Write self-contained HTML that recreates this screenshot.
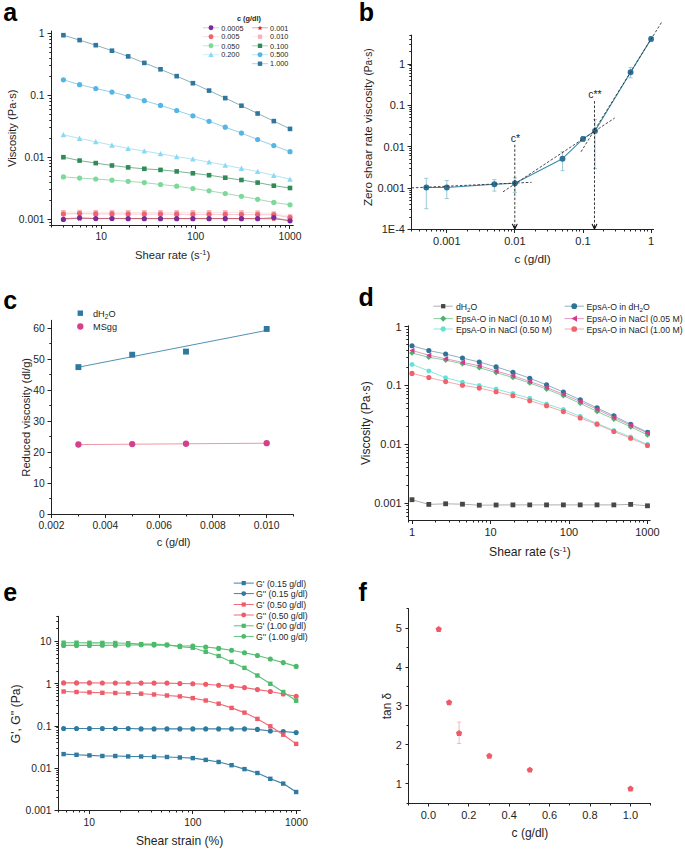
<!DOCTYPE html>
<html><head><meta charset="utf-8"><style>
html,body{margin:0;padding:0;background:#fff;width:685px;height:849px;overflow:hidden}
svg{display:block;font-family:"Liberation Sans", sans-serif}
</style></head><body>
<svg width="685" height="849" viewBox="0 0 685 849" font-family='"Liberation Sans", sans-serif'>
<rect width="685" height="849" fill="#fff"/>
<text x="3.3" y="20.6" font-size="25" text-anchor="start" font-weight="bold" fill="#000" >a</text>
<text x="358.7" y="20.7" font-size="25" text-anchor="start" font-weight="bold" fill="#000" >b</text>
<text x="3.2" y="308.5" font-size="25" text-anchor="start" font-weight="bold" fill="#000" >c</text>
<text x="358.6" y="305.9" font-size="25" text-anchor="start" font-weight="bold" fill="#000" >d</text>
<text x="3.2" y="601.3" font-size="25" text-anchor="start" font-weight="bold" fill="#000" >e</text>
<text x="358.4" y="601" font-size="25" text-anchor="start" font-weight="bold" fill="#000" >f</text>
<line x1="51.5" y1="30.6" x2="51.5" y2="226" stroke="#222" stroke-width="1" />
<line x1="51" y1="225.5" x2="293.7" y2="225.5" stroke="#222" stroke-width="1" />
<line x1="49.3" y1="225.5" x2="51.5" y2="225.5" stroke="#222" stroke-width="1" />
<line x1="49.3" y1="222.5" x2="51.5" y2="222.5" stroke="#222" stroke-width="1" />
<line x1="47.5" y1="219.5" x2="51.5" y2="219.5" stroke="#222" stroke-width="1" />
<line x1="49.3" y1="200.5" x2="51.5" y2="200.5" stroke="#222" stroke-width="1" />
<line x1="49.3" y1="189.5" x2="51.5" y2="189.5" stroke="#222" stroke-width="1" />
<line x1="49.3" y1="182.5" x2="51.5" y2="182.5" stroke="#222" stroke-width="1" />
<line x1="49.3" y1="176.5" x2="51.5" y2="176.5" stroke="#222" stroke-width="1" />
<line x1="49.3" y1="171.5" x2="51.5" y2="171.5" stroke="#222" stroke-width="1" />
<line x1="49.3" y1="166.5" x2="51.5" y2="166.5" stroke="#222" stroke-width="1" />
<line x1="49.3" y1="163.5" x2="51.5" y2="163.5" stroke="#222" stroke-width="1" />
<line x1="49.3" y1="160.5" x2="51.5" y2="160.5" stroke="#222" stroke-width="1" />
<line x1="47.5" y1="157.5" x2="51.5" y2="157.5" stroke="#222" stroke-width="1" />
<line x1="49.3" y1="138.5" x2="51.5" y2="138.5" stroke="#222" stroke-width="1" />
<line x1="49.3" y1="127.5" x2="51.5" y2="127.5" stroke="#222" stroke-width="1" />
<line x1="49.3" y1="120.5" x2="51.5" y2="120.5" stroke="#222" stroke-width="1" />
<line x1="49.3" y1="114.5" x2="51.5" y2="114.5" stroke="#222" stroke-width="1" />
<line x1="49.3" y1="109.5" x2="51.5" y2="109.5" stroke="#222" stroke-width="1" />
<line x1="49.3" y1="105.5" x2="51.5" y2="105.5" stroke="#222" stroke-width="1" />
<line x1="49.3" y1="101.5" x2="51.5" y2="101.5" stroke="#222" stroke-width="1" />
<line x1="49.3" y1="98.5" x2="51.5" y2="98.5" stroke="#222" stroke-width="1" />
<line x1="47.5" y1="95.5" x2="51.5" y2="95.5" stroke="#222" stroke-width="1" />
<line x1="49.3" y1="76.5" x2="51.5" y2="76.5" stroke="#222" stroke-width="1" />
<line x1="49.3" y1="65.5" x2="51.5" y2="65.5" stroke="#222" stroke-width="1" />
<line x1="49.3" y1="58.5" x2="51.5" y2="58.5" stroke="#222" stroke-width="1" />
<line x1="49.3" y1="52.5" x2="51.5" y2="52.5" stroke="#222" stroke-width="1" />
<line x1="49.3" y1="47.5" x2="51.5" y2="47.5" stroke="#222" stroke-width="1" />
<line x1="49.3" y1="43.5" x2="51.5" y2="43.5" stroke="#222" stroke-width="1" />
<line x1="49.3" y1="39.5" x2="51.5" y2="39.5" stroke="#222" stroke-width="1" />
<line x1="49.3" y1="36.5" x2="51.5" y2="36.5" stroke="#222" stroke-width="1" />
<line x1="47.5" y1="33.5" x2="51.5" y2="33.5" stroke="#222" stroke-width="1" />
<line x1="51.5" y1="225.5" x2="51.5" y2="227.5" stroke="#222" stroke-width="1" />
<line x1="63.5" y1="225.5" x2="63.5" y2="227.5" stroke="#222" stroke-width="1" />
<line x1="72.5" y1="225.5" x2="72.5" y2="227.5" stroke="#222" stroke-width="1" />
<line x1="80.5" y1="225.5" x2="80.5" y2="227.5" stroke="#222" stroke-width="1" />
<line x1="86.5" y1="225.5" x2="86.5" y2="227.5" stroke="#222" stroke-width="1" />
<line x1="92.5" y1="225.5" x2="92.5" y2="227.5" stroke="#222" stroke-width="1" />
<line x1="96.5" y1="225.5" x2="96.5" y2="227.5" stroke="#222" stroke-width="1" />
<line x1="101.5" y1="225.5" x2="101.5" y2="229" stroke="#222" stroke-width="1" />
<line x1="129.5" y1="225.5" x2="129.5" y2="227.5" stroke="#222" stroke-width="1" />
<line x1="146.5" y1="225.5" x2="146.5" y2="227.5" stroke="#222" stroke-width="1" />
<line x1="158.5" y1="225.5" x2="158.5" y2="227.5" stroke="#222" stroke-width="1" />
<line x1="167.5" y1="225.5" x2="167.5" y2="227.5" stroke="#222" stroke-width="1" />
<line x1="174.5" y1="225.5" x2="174.5" y2="227.5" stroke="#222" stroke-width="1" />
<line x1="181.5" y1="225.5" x2="181.5" y2="227.5" stroke="#222" stroke-width="1" />
<line x1="186.5" y1="225.5" x2="186.5" y2="227.5" stroke="#222" stroke-width="1" />
<line x1="191.5" y1="225.5" x2="191.5" y2="227.5" stroke="#222" stroke-width="1" />
<line x1="195.5" y1="225.5" x2="195.5" y2="229" stroke="#222" stroke-width="1" />
<line x1="224.5" y1="225.5" x2="224.5" y2="227.5" stroke="#222" stroke-width="1" />
<line x1="240.5" y1="225.5" x2="240.5" y2="227.5" stroke="#222" stroke-width="1" />
<line x1="252.5" y1="225.5" x2="252.5" y2="227.5" stroke="#222" stroke-width="1" />
<line x1="261.5" y1="225.5" x2="261.5" y2="227.5" stroke="#222" stroke-width="1" />
<line x1="269.5" y1="225.5" x2="269.5" y2="227.5" stroke="#222" stroke-width="1" />
<line x1="275.5" y1="225.5" x2="275.5" y2="227.5" stroke="#222" stroke-width="1" />
<line x1="280.5" y1="225.5" x2="280.5" y2="227.5" stroke="#222" stroke-width="1" />
<line x1="285.5" y1="225.5" x2="285.5" y2="227.5" stroke="#222" stroke-width="1" />
<line x1="289.5" y1="225.5" x2="289.5" y2="229" stroke="#222" stroke-width="1" />
<text x="44.6" y="37.2" font-size="10.3" text-anchor="end" font-weight="normal" fill="#1e1e1e" >1</text>
<text x="44.6" y="99.15" font-size="10.3" text-anchor="end" font-weight="normal" fill="#1e1e1e" >0.1</text>
<text x="44.6" y="161.1" font-size="10.3" text-anchor="end" font-weight="normal" fill="#1e1e1e" >0.01</text>
<text x="44.6" y="223.05" font-size="10.3" text-anchor="end" font-weight="normal" fill="#1e1e1e" >0.001</text>
<text x="101.3" y="240.2" font-size="10.3" text-anchor="middle" font-weight="normal" fill="#1e1e1e" >10</text>
<text x="195.65" y="240.2" font-size="10.3" text-anchor="middle" font-weight="normal" fill="#1e1e1e" >100</text>
<text x="290" y="240.2" font-size="10.3" text-anchor="middle" font-weight="normal" fill="#1e1e1e" >1000</text>
<text x="16.3" y="128.3" font-size="11.2" text-anchor="middle" font-weight="normal" fill="#1e1e1e" transform="rotate(-90 16.3 128.3)" >Viscosity (Pa·s)</text>
<text x="172.6" y="258.6" font-size="11.2" text-anchor="middle" font-weight="normal" fill="#1e1e1e" >Shear rate (s<tspan dy="-4" font-size="7.5">-1</tspan><tspan dy="4">)</tspan></text>
<polyline points="63.4,212.3 79.59,212.1 95.77,212.2 111.96,212.3 128.14,212.2 144.33,212.3 160.52,212.3 176.7,212.3 192.89,212.3 209.07,212.3 225.26,212.4 241.45,212.5 257.63,212.6 273.82,213.5 290,216.4" fill="none" stroke="#f9dde0" stroke-width="0.8" stroke-linejoin="round" />
<polyline points="63.4,214 79.59,213.6 95.77,213.9 111.96,213.9 128.14,214 144.33,214 160.52,214 176.7,214.2 192.89,214.3 209.07,214.3 225.26,214.4 241.45,214.5 257.63,214.6 273.82,214.8 290,217.6" fill="none" stroke="#f6b8bc" stroke-width="0.8" stroke-linejoin="round" />
<polyline points="63.4,219.4 79.59,217.9 95.77,218.6 111.96,218.5 128.14,218.7 144.33,218.7 160.52,218.7 176.7,218.7 192.89,218.7 209.07,218.7 225.26,218.7 241.45,218.7 257.63,218.7 273.82,217.6 290,220.8" fill="none" stroke="#b58ac8" stroke-width="0.8" stroke-linejoin="round" />
<polyline points="63.4,218.6 79.59,218.2 95.77,218.5 111.96,218.4 128.14,218.5 144.33,218.5 160.52,218.5 176.7,218.5 192.89,218.5 209.07,218.5 225.26,218.5 241.45,218.5 257.63,218.6 273.82,218.8 290,220.6" fill="none" stroke="#c8505a" stroke-width="0.8" stroke-linejoin="round" />
<rect x="61.1" y="210" width="4.6" height="4.6" fill="#f5b4bc"/>
<rect x="77.29" y="209.8" width="4.6" height="4.6" fill="#f5b4bc"/>
<rect x="93.47" y="209.9" width="4.6" height="4.6" fill="#f5b4bc"/>
<rect x="109.66" y="210" width="4.6" height="4.6" fill="#f5b4bc"/>
<rect x="125.84" y="209.9" width="4.6" height="4.6" fill="#f5b4bc"/>
<rect x="142.03" y="210" width="4.6" height="4.6" fill="#f5b4bc"/>
<rect x="158.22" y="210" width="4.6" height="4.6" fill="#f5b4bc"/>
<rect x="174.4" y="210" width="4.6" height="4.6" fill="#f5b4bc"/>
<rect x="190.59" y="210" width="4.6" height="4.6" fill="#f5b4bc"/>
<rect x="206.77" y="210" width="4.6" height="4.6" fill="#f5b4bc"/>
<rect x="222.96" y="210.1" width="4.6" height="4.6" fill="#f5b4bc"/>
<rect x="239.15" y="210.2" width="4.6" height="4.6" fill="#f5b4bc"/>
<rect x="255.33" y="210.3" width="4.6" height="4.6" fill="#f5b4bc"/>
<rect x="271.52" y="211.2" width="4.6" height="4.6" fill="#f5b4bc"/>
<rect x="287.7" y="214.1" width="4.6" height="4.6" fill="#f5b4bc"/>
<circle cx="63.4" cy="214" r="2.6" fill="#f0626c"/>
<circle cx="79.59" cy="213.6" r="2.6" fill="#f0626c"/>
<circle cx="95.77" cy="213.9" r="2.6" fill="#f0626c"/>
<circle cx="111.96" cy="213.9" r="2.6" fill="#f0626c"/>
<circle cx="128.14" cy="214" r="2.6" fill="#f0626c"/>
<circle cx="144.33" cy="214" r="2.6" fill="#f0626c"/>
<circle cx="160.52" cy="214" r="2.6" fill="#f0626c"/>
<circle cx="176.7" cy="214.2" r="2.6" fill="#f0626c"/>
<circle cx="192.89" cy="214.3" r="2.6" fill="#f0626c"/>
<circle cx="209.07" cy="214.3" r="2.6" fill="#f0626c"/>
<circle cx="225.26" cy="214.4" r="2.6" fill="#f0626c"/>
<circle cx="241.45" cy="214.5" r="2.6" fill="#f0626c"/>
<circle cx="257.63" cy="214.6" r="2.6" fill="#f0626c"/>
<circle cx="273.82" cy="214.8" r="2.6" fill="#f0626c"/>
<circle cx="290" cy="217.6" r="2.6" fill="#f0626c"/>
<polygon points="63.4,216.15 64.12,217.91 66.02,218.05 64.56,219.28 65.02,221.12 63.4,220.12 61.78,221.12 62.24,219.28 60.78,218.05 62.68,217.91" fill="#d7242b" stroke="none" stroke-width="0"/>
<polygon points="79.59,215.75 80.3,217.51 82.2,217.65 80.75,218.88 81.2,220.72 79.59,219.72 77.97,220.72 78.42,218.88 76.97,217.65 78.87,217.51" fill="#d7242b" stroke="none" stroke-width="0"/>
<polygon points="95.77,216.05 96.49,217.81 98.39,217.95 96.93,219.18 97.39,221.02 95.77,220.02 94.16,221.02 94.61,219.18 93.16,217.95 95.05,217.81" fill="#d7242b" stroke="none" stroke-width="0"/>
<polygon points="111.96,215.95 112.68,217.71 114.57,217.85 113.12,219.08 113.57,220.92 111.96,219.92 110.34,220.92 110.8,219.08 109.34,217.85 111.24,217.71" fill="#d7242b" stroke="none" stroke-width="0"/>
<polygon points="128.14,216.05 128.86,217.81 130.76,217.95 129.31,219.18 129.76,221.02 128.14,220.02 126.53,221.02 126.98,219.18 125.53,217.95 127.43,217.81" fill="#d7242b" stroke="none" stroke-width="0"/>
<polygon points="144.33,216.05 145.05,217.81 146.95,217.95 145.49,219.18 145.95,221.02 144.33,220.02 142.71,221.02 143.17,219.18 141.71,217.95 143.61,217.81" fill="#d7242b" stroke="none" stroke-width="0"/>
<polygon points="160.52,216.05 161.23,217.81 163.13,217.95 161.68,219.18 162.13,221.02 160.52,220.02 158.9,221.02 159.35,219.18 157.9,217.95 159.8,217.81" fill="#d7242b" stroke="none" stroke-width="0"/>
<polygon points="176.7,216.05 177.42,217.81 179.32,217.95 177.86,219.18 178.32,221.02 176.7,220.02 175.09,221.02 175.54,219.18 174.09,217.95 175.98,217.81" fill="#d7242b" stroke="none" stroke-width="0"/>
<polygon points="192.89,216.05 193.61,217.81 195.5,217.95 194.05,219.18 194.5,221.02 192.89,220.02 191.27,221.02 191.73,219.18 190.27,217.95 192.17,217.81" fill="#d7242b" stroke="none" stroke-width="0"/>
<polygon points="209.07,216.05 209.79,217.81 211.69,217.95 210.24,219.18 210.69,221.02 209.07,220.02 207.46,221.02 207.91,219.18 206.46,217.95 208.36,217.81" fill="#d7242b" stroke="none" stroke-width="0"/>
<polygon points="225.26,216.05 225.98,217.81 227.88,217.95 226.42,219.18 226.88,221.02 225.26,220.02 223.64,221.02 224.1,219.18 222.64,217.95 224.54,217.81" fill="#d7242b" stroke="none" stroke-width="0"/>
<polygon points="241.45,216.05 242.16,217.81 244.06,217.95 242.61,219.18 243.06,221.02 241.45,220.02 239.83,221.02 240.28,219.18 238.83,217.95 240.73,217.81" fill="#d7242b" stroke="none" stroke-width="0"/>
<polygon points="257.63,216.15 258.35,217.91 260.25,218.05 258.79,219.28 259.25,221.12 257.63,220.12 256.02,221.12 256.47,219.28 255.02,218.05 256.91,217.91" fill="#d7242b" stroke="none" stroke-width="0"/>
<polygon points="273.82,216.35 274.54,218.11 276.43,218.25 274.98,219.48 275.43,221.32 273.82,220.32 272.2,221.32 272.66,219.48 271.2,218.25 273.1,218.11" fill="#d7242b" stroke="none" stroke-width="0"/>
<polygon points="290,218.15 290.72,219.91 292.62,220.05 291.17,221.28 291.62,223.12 290,222.12 288.39,223.12 288.84,221.28 287.39,220.05 289.29,219.91" fill="#d7242b" stroke="none" stroke-width="0"/>
<circle cx="63.4" cy="219.4" r="2.6" fill="#7a2a9c"/>
<circle cx="79.59" cy="217.9" r="2.6" fill="#7a2a9c"/>
<circle cx="95.77" cy="218.6" r="2.6" fill="#7a2a9c"/>
<circle cx="111.96" cy="218.5" r="2.6" fill="#7a2a9c"/>
<circle cx="128.14" cy="218.7" r="2.6" fill="#7a2a9c"/>
<circle cx="144.33" cy="218.7" r="2.6" fill="#7a2a9c"/>
<circle cx="160.52" cy="218.7" r="2.6" fill="#7a2a9c"/>
<circle cx="176.7" cy="218.7" r="2.6" fill="#7a2a9c"/>
<circle cx="192.89" cy="218.7" r="2.6" fill="#7a2a9c"/>
<circle cx="209.07" cy="218.7" r="2.6" fill="#7a2a9c"/>
<circle cx="225.26" cy="218.7" r="2.6" fill="#7a2a9c"/>
<circle cx="241.45" cy="218.7" r="2.6" fill="#7a2a9c"/>
<circle cx="257.63" cy="218.7" r="2.6" fill="#7a2a9c"/>
<circle cx="273.82" cy="217.6" r="2.6" fill="#7a2a9c"/>
<circle cx="290" cy="220.8" r="2.6" fill="#7a2a9c"/>
<polyline points="63.4,176.9 79.59,178.1 95.77,179 111.96,180.2 128.14,181.3 144.33,182.6 160.52,184.5 176.7,186.2 192.89,188.5 209.07,190.8 225.26,193.5 241.45,196.3 257.63,199.3 273.82,202.4 290,204.8" fill="none" stroke="#8ecfa6" stroke-width="0.8" stroke-linejoin="round" />
<circle cx="63.4" cy="176.9" r="2.6" fill="#7fd89b"/>
<circle cx="79.59" cy="178.1" r="2.6" fill="#7fd89b"/>
<circle cx="95.77" cy="179" r="2.6" fill="#7fd89b"/>
<circle cx="111.96" cy="180.2" r="2.6" fill="#7fd89b"/>
<circle cx="128.14" cy="181.3" r="2.6" fill="#7fd89b"/>
<circle cx="144.33" cy="182.6" r="2.6" fill="#7fd89b"/>
<circle cx="160.52" cy="184.5" r="2.6" fill="#7fd89b"/>
<circle cx="176.7" cy="186.2" r="2.6" fill="#7fd89b"/>
<circle cx="192.89" cy="188.5" r="2.6" fill="#7fd89b"/>
<circle cx="209.07" cy="190.8" r="2.6" fill="#7fd89b"/>
<circle cx="225.26" cy="193.5" r="2.6" fill="#7fd89b"/>
<circle cx="241.45" cy="196.3" r="2.6" fill="#7fd89b"/>
<circle cx="257.63" cy="199.3" r="2.6" fill="#7fd89b"/>
<circle cx="273.82" cy="202.4" r="2.6" fill="#7fd89b"/>
<circle cx="290" cy="204.8" r="2.6" fill="#7fd89b"/>
<polyline points="63.4,157.2 79.59,160.6 95.77,163.1 111.96,165.5 128.14,167.4 144.33,168.8 160.52,169.9 176.7,171.4 192.89,173.3 209.07,175.2 225.26,177.7 241.45,180 257.63,182.6 273.82,185.7 290,188" fill="none" stroke="#5d9e78" stroke-width="0.8" stroke-linejoin="round" />
<rect x="61.1" y="154.9" width="4.6" height="4.6" fill="#2f8c57"/>
<rect x="77.29" y="158.3" width="4.6" height="4.6" fill="#2f8c57"/>
<rect x="93.47" y="160.8" width="4.6" height="4.6" fill="#2f8c57"/>
<rect x="109.66" y="163.2" width="4.6" height="4.6" fill="#2f8c57"/>
<rect x="125.84" y="165.1" width="4.6" height="4.6" fill="#2f8c57"/>
<rect x="142.03" y="166.5" width="4.6" height="4.6" fill="#2f8c57"/>
<rect x="158.22" y="167.6" width="4.6" height="4.6" fill="#2f8c57"/>
<rect x="174.4" y="169.1" width="4.6" height="4.6" fill="#2f8c57"/>
<rect x="190.59" y="171" width="4.6" height="4.6" fill="#2f8c57"/>
<rect x="206.77" y="172.9" width="4.6" height="4.6" fill="#2f8c57"/>
<rect x="222.96" y="175.4" width="4.6" height="4.6" fill="#2f8c57"/>
<rect x="239.15" y="177.7" width="4.6" height="4.6" fill="#2f8c57"/>
<rect x="255.33" y="180.3" width="4.6" height="4.6" fill="#2f8c57"/>
<rect x="271.52" y="183.4" width="4.6" height="4.6" fill="#2f8c57"/>
<rect x="287.7" y="185.7" width="4.6" height="4.6" fill="#2f8c57"/>
<polyline points="63.4,134.8 79.59,138.4 95.77,141.8 111.96,145.2 128.14,148.5 144.33,151.1 160.52,153.8 176.7,156.7 192.89,159.1 209.07,162.1 225.26,165.2 241.45,168.4 257.63,171.6 273.82,175.4 290,179.2" fill="none" stroke="#9fdcee" stroke-width="0.8" stroke-linejoin="round" />
<polygon points="63.4,131.98 66.2,137.32 60.6,137.32" fill="#8ad9f5" stroke="none" stroke-width="0"/>
<polygon points="79.59,135.58 82.39,140.92 76.79,140.92" fill="#8ad9f5" stroke="none" stroke-width="0"/>
<polygon points="95.77,138.98 98.57,144.32 92.97,144.32" fill="#8ad9f5" stroke="none" stroke-width="0"/>
<polygon points="111.96,142.38 114.76,147.72 109.16,147.72" fill="#8ad9f5" stroke="none" stroke-width="0"/>
<polygon points="128.14,145.68 130.94,151.02 125.34,151.02" fill="#8ad9f5" stroke="none" stroke-width="0"/>
<polygon points="144.33,148.28 147.13,153.62 141.53,153.62" fill="#8ad9f5" stroke="none" stroke-width="0"/>
<polygon points="160.52,150.98 163.32,156.32 157.72,156.32" fill="#8ad9f5" stroke="none" stroke-width="0"/>
<polygon points="176.7,153.88 179.5,159.22 173.9,159.22" fill="#8ad9f5" stroke="none" stroke-width="0"/>
<polygon points="192.89,156.28 195.69,161.62 190.09,161.62" fill="#8ad9f5" stroke="none" stroke-width="0"/>
<polygon points="209.07,159.28 211.87,164.62 206.27,164.62" fill="#8ad9f5" stroke="none" stroke-width="0"/>
<polygon points="225.26,162.38 228.06,167.72 222.46,167.72" fill="#8ad9f5" stroke="none" stroke-width="0"/>
<polygon points="241.45,165.58 244.25,170.92 238.65,170.92" fill="#8ad9f5" stroke="none" stroke-width="0"/>
<polygon points="257.63,168.78 260.43,174.12 254.83,174.12" fill="#8ad9f5" stroke="none" stroke-width="0"/>
<polygon points="273.82,172.58 276.62,177.92 271.02,177.92" fill="#8ad9f5" stroke="none" stroke-width="0"/>
<polygon points="290,176.38 292.8,181.72 287.2,181.72" fill="#8ad9f5" stroke="none" stroke-width="0"/>
<polyline points="63.4,79.8 79.59,84.7 95.77,88.5 111.96,92.1 128.14,96.3 144.33,100.7 160.52,105.4 176.7,110.5 192.89,115.8 209.07,121.3 225.26,127.2 241.45,133.1 257.63,139.5 273.82,145.6 290,151.7" fill="none" stroke="#7cc3e0" stroke-width="0.8" stroke-linejoin="round" />
<circle cx="63.4" cy="79.8" r="2.6" fill="#55b6e6"/>
<circle cx="79.59" cy="84.7" r="2.6" fill="#55b6e6"/>
<circle cx="95.77" cy="88.5" r="2.6" fill="#55b6e6"/>
<circle cx="111.96" cy="92.1" r="2.6" fill="#55b6e6"/>
<circle cx="128.14" cy="96.3" r="2.6" fill="#55b6e6"/>
<circle cx="144.33" cy="100.7" r="2.6" fill="#55b6e6"/>
<circle cx="160.52" cy="105.4" r="2.6" fill="#55b6e6"/>
<circle cx="176.7" cy="110.5" r="2.6" fill="#55b6e6"/>
<circle cx="192.89" cy="115.8" r="2.6" fill="#55b6e6"/>
<circle cx="209.07" cy="121.3" r="2.6" fill="#55b6e6"/>
<circle cx="225.26" cy="127.2" r="2.6" fill="#55b6e6"/>
<circle cx="241.45" cy="133.1" r="2.6" fill="#55b6e6"/>
<circle cx="257.63" cy="139.5" r="2.6" fill="#55b6e6"/>
<circle cx="273.82" cy="145.6" r="2.6" fill="#55b6e6"/>
<circle cx="290" cy="151.7" r="2.6" fill="#55b6e6"/>
<polyline points="63.4,35.2 79.59,40.1 95.77,45.2 111.96,50.7 128.14,56.4 144.33,62.9 160.52,69.3 176.7,76.15 192.89,83.2 209.07,90.6 225.26,98.1 241.45,105.7 257.63,113.5 273.82,121.1 290,128.9" fill="none" stroke="#6c9ea8" stroke-width="0.8" stroke-linejoin="round" />
<rect x="61.1" y="32.9" width="4.6" height="4.6" fill="#2f77a0"/>
<rect x="77.29" y="37.8" width="4.6" height="4.6" fill="#2f77a0"/>
<rect x="93.47" y="42.9" width="4.6" height="4.6" fill="#2f77a0"/>
<rect x="109.66" y="48.4" width="4.6" height="4.6" fill="#2f77a0"/>
<rect x="125.84" y="54.1" width="4.6" height="4.6" fill="#2f77a0"/>
<rect x="142.03" y="60.6" width="4.6" height="4.6" fill="#2f77a0"/>
<rect x="158.22" y="67" width="4.6" height="4.6" fill="#2f77a0"/>
<rect x="174.4" y="73.85" width="4.6" height="4.6" fill="#2f77a0"/>
<rect x="190.59" y="80.9" width="4.6" height="4.6" fill="#2f77a0"/>
<rect x="206.77" y="88.3" width="4.6" height="4.6" fill="#2f77a0"/>
<rect x="222.96" y="95.8" width="4.6" height="4.6" fill="#2f77a0"/>
<rect x="239.15" y="103.4" width="4.6" height="4.6" fill="#2f77a0"/>
<rect x="255.33" y="111.2" width="4.6" height="4.6" fill="#2f77a0"/>
<rect x="271.52" y="118.8" width="4.6" height="4.6" fill="#2f77a0"/>
<rect x="287.7" y="126.6" width="4.6" height="4.6" fill="#2f77a0"/>
<text x="249" y="21.2" font-size="7.3" text-anchor="middle" font-weight="bold" fill="#1e1e1e" >c (g/dl)</text>
<line x1="203" y1="27.8" x2="219" y2="27.8" stroke="#b58ac8" stroke-width="0.7" stroke-opacity="0.7"/>
<circle cx="211" cy="27.8" r="2.47" fill="#7a2a9c"/>
<text x="221.2" y="30.55" font-size="7.7" text-anchor="start" font-weight="normal" fill="#1e1e1e" textLength="22.37" lengthAdjust="spacingAndGlyphs">0.0005</text>
<line x1="203" y1="36.7" x2="219" y2="36.7" stroke="#f6b8bc" stroke-width="0.7" stroke-opacity="0.7"/>
<circle cx="211" cy="36.7" r="2.47" fill="#f0626c"/>
<text x="221.2" y="39.45" font-size="7.7" text-anchor="start" font-weight="normal" fill="#1e1e1e" textLength="18.3" lengthAdjust="spacingAndGlyphs">0.005</text>
<line x1="203" y1="45.8" x2="219" y2="45.8" stroke="#8ecfa6" stroke-width="0.7" stroke-opacity="0.7"/>
<circle cx="211" cy="45.8" r="2.47" fill="#7fd89b"/>
<text x="221.2" y="48.55" font-size="7.7" text-anchor="start" font-weight="normal" fill="#1e1e1e" textLength="18.3" lengthAdjust="spacingAndGlyphs">0.050</text>
<line x1="203" y1="54.7" x2="219" y2="54.7" stroke="#9fdcee" stroke-width="0.7" stroke-opacity="0.7"/>
<polygon points="211,52.01 213.66,57.09 208.34,57.09" fill="#8ad9f5" stroke="none" stroke-width="0"/>
<text x="221.2" y="57.45" font-size="7.7" text-anchor="start" font-weight="normal" fill="#1e1e1e" textLength="18.3" lengthAdjust="spacingAndGlyphs">0.200</text>
<line x1="252" y1="27.8" x2="268" y2="27.8" stroke="#c8505a" stroke-width="0.7" stroke-opacity="0.7"/>
<polygon points="260,25.49 260.68,27.16 262.48,27.29 261.1,28.46 261.54,30.21 260,29.26 258.46,30.21 258.9,28.46 257.52,27.29 259.32,27.16" fill="#d7242b" stroke="none" stroke-width="0"/>
<text x="270.1" y="30.55" font-size="7.7" text-anchor="start" font-weight="normal" fill="#1e1e1e" textLength="18.3" lengthAdjust="spacingAndGlyphs">0.001</text>
<line x1="252" y1="36.7" x2="268" y2="36.7" stroke="#f9dde0" stroke-width="0.7" stroke-opacity="0.7"/>
<rect x="257.81" y="34.52" width="4.37" height="4.37" fill="#f5b4bc"/>
<text x="270.1" y="39.45" font-size="7.7" text-anchor="start" font-weight="normal" fill="#1e1e1e" textLength="18.3" lengthAdjust="spacingAndGlyphs">0.010</text>
<line x1="252" y1="45.8" x2="268" y2="45.8" stroke="#5d9e78" stroke-width="0.7" stroke-opacity="0.7"/>
<rect x="257.81" y="43.61" width="4.37" height="4.37" fill="#2f8c57"/>
<text x="270.1" y="48.55" font-size="7.7" text-anchor="start" font-weight="normal" fill="#1e1e1e" textLength="18.3" lengthAdjust="spacingAndGlyphs">0.100</text>
<line x1="252" y1="54.7" x2="268" y2="54.7" stroke="#7cc3e0" stroke-width="0.7" stroke-opacity="0.7"/>
<circle cx="260" cy="54.7" r="2.47" fill="#55b6e6"/>
<text x="270.1" y="57.45" font-size="7.7" text-anchor="start" font-weight="normal" fill="#1e1e1e" textLength="18.3" lengthAdjust="spacingAndGlyphs">0.500</text>
<line x1="252" y1="63.7" x2="268" y2="63.7" stroke="#6c9ea8" stroke-width="0.7" stroke-opacity="0.7"/>
<rect x="257.81" y="61.52" width="4.37" height="4.37" fill="#2f77a0"/>
<text x="270.1" y="66.45" font-size="7.7" text-anchor="start" font-weight="normal" fill="#1e1e1e" textLength="18.3" lengthAdjust="spacingAndGlyphs">1.000</text>
<line x1="411.5" y1="34.7" x2="411.5" y2="230" stroke="#222" stroke-width="1" />
<line x1="411" y1="229.5" x2="654" y2="229.5" stroke="#222" stroke-width="1" />
<line x1="407.5" y1="229.5" x2="411.5" y2="229.5" stroke="#222" stroke-width="1" />
<line x1="409.3" y1="217.5" x2="411.5" y2="217.5" stroke="#222" stroke-width="1" />
<line x1="409.3" y1="209.5" x2="411.5" y2="209.5" stroke="#222" stroke-width="1" />
<line x1="409.3" y1="204.5" x2="411.5" y2="204.5" stroke="#222" stroke-width="1" />
<line x1="409.3" y1="200.5" x2="411.5" y2="200.5" stroke="#222" stroke-width="1" />
<line x1="409.3" y1="197.5" x2="411.5" y2="197.5" stroke="#222" stroke-width="1" />
<line x1="409.3" y1="194.5" x2="411.5" y2="194.5" stroke="#222" stroke-width="1" />
<line x1="409.3" y1="192.5" x2="411.5" y2="192.5" stroke="#222" stroke-width="1" />
<line x1="409.3" y1="190.5" x2="411.5" y2="190.5" stroke="#222" stroke-width="1" />
<line x1="407.5" y1="188.5" x2="411.5" y2="188.5" stroke="#222" stroke-width="1" />
<line x1="409.3" y1="175.5" x2="411.5" y2="175.5" stroke="#222" stroke-width="1" />
<line x1="409.3" y1="168.5" x2="411.5" y2="168.5" stroke="#222" stroke-width="1" />
<line x1="409.3" y1="163.5" x2="411.5" y2="163.5" stroke="#222" stroke-width="1" />
<line x1="409.3" y1="159.5" x2="411.5" y2="159.5" stroke="#222" stroke-width="1" />
<line x1="409.3" y1="155.5" x2="411.5" y2="155.5" stroke="#222" stroke-width="1" />
<line x1="409.3" y1="153.5" x2="411.5" y2="153.5" stroke="#222" stroke-width="1" />
<line x1="409.3" y1="150.5" x2="411.5" y2="150.5" stroke="#222" stroke-width="1" />
<line x1="409.3" y1="148.5" x2="411.5" y2="148.5" stroke="#222" stroke-width="1" />
<line x1="407.5" y1="146.5" x2="411.5" y2="146.5" stroke="#222" stroke-width="1" />
<line x1="409.3" y1="134.5" x2="411.5" y2="134.5" stroke="#222" stroke-width="1" />
<line x1="409.3" y1="127.5" x2="411.5" y2="127.5" stroke="#222" stroke-width="1" />
<line x1="409.3" y1="121.5" x2="411.5" y2="121.5" stroke="#222" stroke-width="1" />
<line x1="409.3" y1="117.5" x2="411.5" y2="117.5" stroke="#222" stroke-width="1" />
<line x1="409.3" y1="114.5" x2="411.5" y2="114.5" stroke="#222" stroke-width="1" />
<line x1="409.3" y1="111.5" x2="411.5" y2="111.5" stroke="#222" stroke-width="1" />
<line x1="409.3" y1="109.5" x2="411.5" y2="109.5" stroke="#222" stroke-width="1" />
<line x1="409.3" y1="107.5" x2="411.5" y2="107.5" stroke="#222" stroke-width="1" />
<line x1="407.5" y1="105.5" x2="411.5" y2="105.5" stroke="#222" stroke-width="1" />
<line x1="409.3" y1="93.5" x2="411.5" y2="93.5" stroke="#222" stroke-width="1" />
<line x1="409.3" y1="85.5" x2="411.5" y2="85.5" stroke="#222" stroke-width="1" />
<line x1="409.3" y1="80.5" x2="411.5" y2="80.5" stroke="#222" stroke-width="1" />
<line x1="409.3" y1="76.5" x2="411.5" y2="76.5" stroke="#222" stroke-width="1" />
<line x1="409.3" y1="73.5" x2="411.5" y2="73.5" stroke="#222" stroke-width="1" />
<line x1="409.3" y1="70.5" x2="411.5" y2="70.5" stroke="#222" stroke-width="1" />
<line x1="409.3" y1="68.5" x2="411.5" y2="68.5" stroke="#222" stroke-width="1" />
<line x1="409.3" y1="65.5" x2="411.5" y2="65.5" stroke="#222" stroke-width="1" />
<line x1="407.5" y1="64.5" x2="411.5" y2="64.5" stroke="#222" stroke-width="1" />
<line x1="409.3" y1="51.5" x2="411.5" y2="51.5" stroke="#222" stroke-width="1" />
<line x1="409.3" y1="44.5" x2="411.5" y2="44.5" stroke="#222" stroke-width="1" />
<line x1="409.3" y1="39.5" x2="411.5" y2="39.5" stroke="#222" stroke-width="1" />
<line x1="409.3" y1="35.5" x2="411.5" y2="35.5" stroke="#222" stroke-width="1" />
<line x1="411.5" y1="229.5" x2="411.5" y2="231.5" stroke="#222" stroke-width="1" />
<line x1="419.5" y1="229.5" x2="419.5" y2="231.5" stroke="#222" stroke-width="1" />
<line x1="426.5" y1="229.5" x2="426.5" y2="231.5" stroke="#222" stroke-width="1" />
<line x1="431.5" y1="229.5" x2="431.5" y2="231.5" stroke="#222" stroke-width="1" />
<line x1="436.5" y1="229.5" x2="436.5" y2="231.5" stroke="#222" stroke-width="1" />
<line x1="440.5" y1="229.5" x2="440.5" y2="231.5" stroke="#222" stroke-width="1" />
<line x1="443.5" y1="229.5" x2="443.5" y2="231.5" stroke="#222" stroke-width="1" />
<line x1="446.5" y1="229.5" x2="446.5" y2="233" stroke="#222" stroke-width="1" />
<line x1="467.5" y1="229.5" x2="467.5" y2="231.5" stroke="#222" stroke-width="1" />
<line x1="479.5" y1="229.5" x2="479.5" y2="231.5" stroke="#222" stroke-width="1" />
<line x1="487.5" y1="229.5" x2="487.5" y2="231.5" stroke="#222" stroke-width="1" />
<line x1="494.5" y1="229.5" x2="494.5" y2="231.5" stroke="#222" stroke-width="1" />
<line x1="499.5" y1="229.5" x2="499.5" y2="231.5" stroke="#222" stroke-width="1" />
<line x1="504.5" y1="229.5" x2="504.5" y2="231.5" stroke="#222" stroke-width="1" />
<line x1="508.5" y1="229.5" x2="508.5" y2="231.5" stroke="#222" stroke-width="1" />
<line x1="511.5" y1="229.5" x2="511.5" y2="231.5" stroke="#222" stroke-width="1" />
<line x1="514.5" y1="229.5" x2="514.5" y2="233" stroke="#222" stroke-width="1" />
<line x1="535.5" y1="229.5" x2="535.5" y2="231.5" stroke="#222" stroke-width="1" />
<line x1="547.5" y1="229.5" x2="547.5" y2="231.5" stroke="#222" stroke-width="1" />
<line x1="555.5" y1="229.5" x2="555.5" y2="231.5" stroke="#222" stroke-width="1" />
<line x1="562.5" y1="229.5" x2="562.5" y2="231.5" stroke="#222" stroke-width="1" />
<line x1="567.5" y1="229.5" x2="567.5" y2="231.5" stroke="#222" stroke-width="1" />
<line x1="572.5" y1="229.5" x2="572.5" y2="231.5" stroke="#222" stroke-width="1" />
<line x1="576.5" y1="229.5" x2="576.5" y2="231.5" stroke="#222" stroke-width="1" />
<line x1="579.5" y1="229.5" x2="579.5" y2="231.5" stroke="#222" stroke-width="1" />
<line x1="583.5" y1="229.5" x2="583.5" y2="233" stroke="#222" stroke-width="1" />
<line x1="603.5" y1="229.5" x2="603.5" y2="231.5" stroke="#222" stroke-width="1" />
<line x1="615.5" y1="229.5" x2="615.5" y2="231.5" stroke="#222" stroke-width="1" />
<line x1="624.5" y1="229.5" x2="624.5" y2="231.5" stroke="#222" stroke-width="1" />
<line x1="630.5" y1="229.5" x2="630.5" y2="231.5" stroke="#222" stroke-width="1" />
<line x1="635.5" y1="229.5" x2="635.5" y2="231.5" stroke="#222" stroke-width="1" />
<line x1="640.5" y1="229.5" x2="640.5" y2="231.5" stroke="#222" stroke-width="1" />
<line x1="644.5" y1="229.5" x2="644.5" y2="231.5" stroke="#222" stroke-width="1" />
<line x1="647.5" y1="229.5" x2="647.5" y2="231.5" stroke="#222" stroke-width="1" />
<line x1="651.5" y1="229.5" x2="651.5" y2="233" stroke="#222" stroke-width="1" />
<text x="405" y="68" font-size="11" text-anchor="end" font-weight="normal" fill="#1e1e1e" >1</text>
<text x="405" y="109.35" font-size="11" text-anchor="end" font-weight="normal" fill="#1e1e1e" >0.1</text>
<text x="405" y="150.7" font-size="11" text-anchor="end" font-weight="normal" fill="#1e1e1e" >0.01</text>
<text x="405" y="192.05" font-size="11" text-anchor="end" font-weight="normal" fill="#1e1e1e" >0.001</text>
<text x="405" y="233.4" font-size="11" text-anchor="end" font-weight="normal" fill="#1e1e1e" >1E-4</text>
<text x="446.8" y="244.8" font-size="11" text-anchor="middle" font-weight="normal" fill="#1e1e1e" >0.001</text>
<text x="514.9" y="244.8" font-size="11" text-anchor="middle" font-weight="normal" fill="#1e1e1e" >0.01</text>
<text x="583" y="244.8" font-size="11" text-anchor="middle" font-weight="normal" fill="#1e1e1e" >0.1</text>
<text x="651.1" y="244.8" font-size="11" text-anchor="middle" font-weight="normal" fill="#1e1e1e" >1</text>
<text x="372.2" y="127.2" font-size="11.7" text-anchor="middle" fill="#1e1e1e" transform="rotate(-90 372.2 127.2)">Zero shear rate viscosity <tspan font-size="10">(Pa·s)</tspan></text>
<text x="532.6" y="263.4" font-size="11.8" text-anchor="middle" font-weight="normal" fill="#1e1e1e" >c (g/dl)</text>
<line x1="426.3" y1="178.3" x2="426.3" y2="208.7" stroke="#93c3cf" stroke-width="0.9" />
<line x1="424.3" y1="178.3" x2="428.3" y2="178.3" stroke="#93c3cf" stroke-width="0.9" />
<line x1="424.3" y1="208.7" x2="428.3" y2="208.7" stroke="#93c3cf" stroke-width="0.9" />
<line x1="446.8" y1="180.5" x2="446.8" y2="198.5" stroke="#93c3cf" stroke-width="0.9" />
<line x1="444.8" y1="180.5" x2="448.8" y2="180.5" stroke="#93c3cf" stroke-width="0.9" />
<line x1="444.8" y1="198.5" x2="448.8" y2="198.5" stroke="#93c3cf" stroke-width="0.9" />
<line x1="494.4" y1="179.6" x2="494.4" y2="191.1" stroke="#93c3cf" stroke-width="0.9" />
<line x1="492.4" y1="179.6" x2="496.4" y2="179.6" stroke="#93c3cf" stroke-width="0.9" />
<line x1="492.4" y1="191.1" x2="496.4" y2="191.1" stroke="#93c3cf" stroke-width="0.9" />
<line x1="514.9" y1="177.8" x2="514.9" y2="192.4" stroke="#93c3cf" stroke-width="0.9" />
<line x1="512.9" y1="177.8" x2="516.9" y2="177.8" stroke="#93c3cf" stroke-width="0.9" />
<line x1="512.9" y1="192.4" x2="516.9" y2="192.4" stroke="#93c3cf" stroke-width="0.9" />
<line x1="562.5" y1="151.8" x2="562.5" y2="170.7" stroke="#93c3cf" stroke-width="0.9" />
<line x1="560.5" y1="151.8" x2="564.5" y2="151.8" stroke="#93c3cf" stroke-width="0.9" />
<line x1="560.5" y1="170.7" x2="564.5" y2="170.7" stroke="#93c3cf" stroke-width="0.9" />
<line x1="583" y1="136.5" x2="583" y2="141.5" stroke="#93c3cf" stroke-width="0.9" />
<line x1="581" y1="136.5" x2="585" y2="136.5" stroke="#93c3cf" stroke-width="0.9" />
<line x1="581" y1="141.5" x2="585" y2="141.5" stroke="#93c3cf" stroke-width="0.9" />
<line x1="594.99" y1="119.6" x2="594.99" y2="168.6" stroke="#93c3cf" stroke-width="0.9" />
<line x1="592.99" y1="119.6" x2="596.99" y2="119.6" stroke="#93c3cf" stroke-width="0.9" />
<line x1="592.99" y1="168.6" x2="596.99" y2="168.6" stroke="#93c3cf" stroke-width="0.9" />
<line x1="630.6" y1="67.4" x2="630.6" y2="77.8" stroke="#93c3cf" stroke-width="0.9" />
<line x1="628.6" y1="67.4" x2="632.6" y2="67.4" stroke="#93c3cf" stroke-width="0.9" />
<line x1="628.6" y1="77.8" x2="632.6" y2="77.8" stroke="#93c3cf" stroke-width="0.9" />
<line x1="651.1" y1="36.5" x2="651.1" y2="41.5" stroke="#93c3cf" stroke-width="0.9" />
<line x1="649.1" y1="36.5" x2="653.1" y2="36.5" stroke="#93c3cf" stroke-width="0.9" />
<line x1="649.1" y1="41.5" x2="653.1" y2="41.5" stroke="#93c3cf" stroke-width="0.9" />
<polyline points="426.3,187.5 446.8,187.5 494.4,184.2 514.9,183.2 562.5,158.7 583,138.9 594.99,130.9 630.6,72.2 651.1,38.9" fill="none" stroke="#3b8aab" stroke-width="1.05" stroke-linejoin="round" />
<circle cx="426.3" cy="187.5" r="2.95" fill="#2f7297"/>
<circle cx="446.8" cy="187.5" r="2.95" fill="#2f7297"/>
<circle cx="494.4" cy="184.2" r="2.95" fill="#2f7297"/>
<circle cx="514.9" cy="183.2" r="2.95" fill="#2f7297"/>
<circle cx="562.5" cy="158.7" r="2.95" fill="#2f7297"/>
<circle cx="583" cy="138.9" r="2.95" fill="#2f7297"/>
<circle cx="594.99" cy="130.9" r="2.95" fill="#2f7297"/>
<circle cx="630.6" cy="72.2" r="2.95" fill="#2f7297"/>
<circle cx="651.1" cy="38.9" r="2.95" fill="#2f7297"/>
<line x1="411.5" y1="187.9" x2="531.5" y2="182.3" stroke="#333" stroke-width="0.9" stroke-dasharray="2.6,1.8"/>
<line x1="503" y1="191.8" x2="614.7" y2="118" stroke="#333" stroke-width="0.9" stroke-dasharray="2.6,1.8"/>
<line x1="581" y1="151.8" x2="662" y2="21.6" stroke="#333" stroke-width="0.9" stroke-dasharray="2.6,1.8"/>
<line x1="514.8" y1="144.8" x2="514.8" y2="228" stroke="#222" stroke-width="0.9" stroke-dasharray="2.6,1.8"/>
<polyline points="512.5,224.2 514.8,228.9 517.1,224.2" fill="none" stroke="#111" stroke-width="1.1" stroke-linejoin="round" stroke-linecap="round"/>
<polygon points="513.6,226.2 516,226.2 514.8,228.9" fill="#111" stroke="none" stroke-width="0"/>
<line x1="594.5" y1="101.1" x2="594.5" y2="228" stroke="#222" stroke-width="0.9" stroke-dasharray="2.6,1.8"/>
<polyline points="592.2,224.2 594.5,228.9 596.8,224.2" fill="none" stroke="#111" stroke-width="1.1" stroke-linejoin="round" stroke-linecap="round"/>
<polygon points="593.3,226.2 595.7,226.2 594.5,228.9" fill="#111" stroke="none" stroke-width="0"/>
<text x="515.5" y="142" font-size="10.5" text-anchor="middle" font-weight="normal" fill="#1e1e1e" >c*</text>
<text x="595" y="97.7" font-size="10.5" text-anchor="middle" font-weight="normal" fill="#1e1e1e" >c**</text>
<line x1="51.5" y1="319.9" x2="51.5" y2="515" stroke="#222" stroke-width="1" />
<line x1="51" y1="514.5" x2="293.8" y2="514.5" stroke="#222" stroke-width="1" />
<line x1="47.5" y1="514.5" x2="51.5" y2="514.5" stroke="#222" stroke-width="1" />
<text x="44.7" y="517.9" font-size="10.3" text-anchor="end" font-weight="normal" fill="#1e1e1e" >0</text>
<line x1="49.3" y1="498.5" x2="51.5" y2="498.5" stroke="#222" stroke-width="1" />
<line x1="47.5" y1="483.5" x2="51.5" y2="483.5" stroke="#222" stroke-width="1" />
<text x="44.7" y="486.87" font-size="10.3" text-anchor="end" font-weight="normal" fill="#1e1e1e" >10</text>
<line x1="49.3" y1="467.5" x2="51.5" y2="467.5" stroke="#222" stroke-width="1" />
<line x1="47.5" y1="452.5" x2="51.5" y2="452.5" stroke="#222" stroke-width="1" />
<text x="44.7" y="455.84" font-size="10.3" text-anchor="end" font-weight="normal" fill="#1e1e1e" >20</text>
<line x1="49.3" y1="436.5" x2="51.5" y2="436.5" stroke="#222" stroke-width="1" />
<line x1="47.5" y1="421.5" x2="51.5" y2="421.5" stroke="#222" stroke-width="1" />
<text x="44.7" y="424.81" font-size="10.3" text-anchor="end" font-weight="normal" fill="#1e1e1e" >30</text>
<line x1="49.3" y1="405.5" x2="51.5" y2="405.5" stroke="#222" stroke-width="1" />
<line x1="47.5" y1="390.5" x2="51.5" y2="390.5" stroke="#222" stroke-width="1" />
<text x="44.7" y="393.78" font-size="10.3" text-anchor="end" font-weight="normal" fill="#1e1e1e" >40</text>
<line x1="49.3" y1="374.5" x2="51.5" y2="374.5" stroke="#222" stroke-width="1" />
<line x1="47.5" y1="359.5" x2="51.5" y2="359.5" stroke="#222" stroke-width="1" />
<text x="44.7" y="362.75" font-size="10.3" text-anchor="end" font-weight="normal" fill="#1e1e1e" >50</text>
<line x1="49.3" y1="343.5" x2="51.5" y2="343.5" stroke="#222" stroke-width="1" />
<line x1="47.5" y1="328.5" x2="51.5" y2="328.5" stroke="#222" stroke-width="1" />
<text x="44.7" y="331.72" font-size="10.3" text-anchor="end" font-weight="normal" fill="#1e1e1e" >60</text>
<line x1="51.5" y1="514.5" x2="51.5" y2="518" stroke="#222" stroke-width="1" />
<text x="51.5" y="529.4" font-size="10.3" text-anchor="middle" font-weight="normal" fill="#1e1e1e" >0.002</text>
<line x1="78.5" y1="514.5" x2="78.5" y2="516.5" stroke="#222" stroke-width="1" />
<line x1="105.5" y1="514.5" x2="105.5" y2="518" stroke="#222" stroke-width="1" />
<text x="105.3" y="529.4" font-size="10.3" text-anchor="middle" font-weight="normal" fill="#1e1e1e" >0.004</text>
<line x1="132.5" y1="514.5" x2="132.5" y2="516.5" stroke="#222" stroke-width="1" />
<line x1="159.5" y1="514.5" x2="159.5" y2="518" stroke="#222" stroke-width="1" />
<text x="159.1" y="529.4" font-size="10.3" text-anchor="middle" font-weight="normal" fill="#1e1e1e" >0.006</text>
<line x1="186.5" y1="514.5" x2="186.5" y2="516.5" stroke="#222" stroke-width="1" />
<line x1="212.5" y1="514.5" x2="212.5" y2="518" stroke="#222" stroke-width="1" />
<text x="212.9" y="529.4" font-size="10.3" text-anchor="middle" font-weight="normal" fill="#1e1e1e" >0.008</text>
<line x1="239.5" y1="514.5" x2="239.5" y2="516.5" stroke="#222" stroke-width="1" />
<line x1="266.5" y1="514.5" x2="266.5" y2="518" stroke="#222" stroke-width="1" />
<text x="266.7" y="529.4" font-size="10.3" text-anchor="middle" font-weight="normal" fill="#1e1e1e" >0.010</text>
<line x1="293.5" y1="514.5" x2="293.5" y2="516.5" stroke="#222" stroke-width="1" />
<text x="29.8" y="417.3" font-size="11.2" text-anchor="middle" font-weight="normal" fill="#1e1e1e" transform="rotate(-90 29.8 417.3)" >Reduced viscosity (dl/g)</text>
<text x="173.6" y="546.4" font-size="11.0" text-anchor="middle" font-weight="normal" fill="#1e1e1e" >c (g/dl)</text>
<line x1="78.4" y1="367.2" x2="266.7" y2="330.4" stroke="#3d86a8" stroke-width="0.9" />
<line x1="78.4" y1="444.6" x2="266.7" y2="443.2" stroke="#ea8a9a" stroke-width="0.9" />
<rect x="75.45" y="364.17" width="5.9" height="5.9" fill="#2f78a0"/>
<rect x="129.25" y="351.76" width="5.9" height="5.9" fill="#2f78a0"/>
<rect x="183.05" y="348.65" width="5.9" height="5.9" fill="#2f78a0"/>
<rect x="263.75" y="326" width="5.9" height="5.9" fill="#2f78a0"/>
<circle cx="78.4" cy="444.51" r="3.15" fill="#d5408a"/>
<circle cx="132.2" cy="444.07" r="3.15" fill="#d5408a"/>
<circle cx="186" cy="443.76" r="3.15" fill="#d5408a"/>
<circle cx="266.7" cy="443.14" r="3.15" fill="#d5408a"/>
<rect x="77.6" y="310.5" width="5.4" height="5.4" fill="#2f78a0"/>
<circle cx="80.3" cy="326.5" r="3.15" fill="#d5408a"/>
<text x="93" y="316.5" font-size="9.2" text-anchor="start" font-weight="normal" fill="#1e1e1e" >dH<tspan font-size="6.5" dy="2.5">2</tspan><tspan dy="-2.5">O</tspan></text>
<text x="93" y="329.8" font-size="9.2" text-anchor="start" font-weight="normal" fill="#1e1e1e" >MSgg</text>
<line x1="408.5" y1="325.4" x2="408.5" y2="521" stroke="#222" stroke-width="1" />
<line x1="408" y1="520.5" x2="650.6" y2="520.5" stroke="#222" stroke-width="1" />
<line x1="406.3" y1="516.5" x2="408.5" y2="516.5" stroke="#222" stroke-width="1" />
<line x1="406.3" y1="512.5" x2="408.5" y2="512.5" stroke="#222" stroke-width="1" />
<line x1="406.3" y1="509.5" x2="408.5" y2="509.5" stroke="#222" stroke-width="1" />
<line x1="406.3" y1="505.5" x2="408.5" y2="505.5" stroke="#222" stroke-width="1" />
<line x1="404.5" y1="503.5" x2="408.5" y2="503.5" stroke="#222" stroke-width="1" />
<line x1="406.3" y1="485.5" x2="408.5" y2="485.5" stroke="#222" stroke-width="1" />
<line x1="406.3" y1="475.5" x2="408.5" y2="475.5" stroke="#222" stroke-width="1" />
<line x1="406.3" y1="467.5" x2="408.5" y2="467.5" stroke="#222" stroke-width="1" />
<line x1="406.3" y1="462.5" x2="408.5" y2="462.5" stroke="#222" stroke-width="1" />
<line x1="406.3" y1="457.5" x2="408.5" y2="457.5" stroke="#222" stroke-width="1" />
<line x1="406.3" y1="453.5" x2="408.5" y2="453.5" stroke="#222" stroke-width="1" />
<line x1="406.3" y1="450.5" x2="408.5" y2="450.5" stroke="#222" stroke-width="1" />
<line x1="406.3" y1="447.5" x2="408.5" y2="447.5" stroke="#222" stroke-width="1" />
<line x1="404.5" y1="444.5" x2="408.5" y2="444.5" stroke="#222" stroke-width="1" />
<line x1="406.3" y1="426.5" x2="408.5" y2="426.5" stroke="#222" stroke-width="1" />
<line x1="406.3" y1="416.5" x2="408.5" y2="416.5" stroke="#222" stroke-width="1" />
<line x1="406.3" y1="408.5" x2="408.5" y2="408.5" stroke="#222" stroke-width="1" />
<line x1="406.3" y1="403.5" x2="408.5" y2="403.5" stroke="#222" stroke-width="1" />
<line x1="406.3" y1="398.5" x2="408.5" y2="398.5" stroke="#222" stroke-width="1" />
<line x1="406.3" y1="394.5" x2="408.5" y2="394.5" stroke="#222" stroke-width="1" />
<line x1="406.3" y1="391.5" x2="408.5" y2="391.5" stroke="#222" stroke-width="1" />
<line x1="406.3" y1="388.5" x2="408.5" y2="388.5" stroke="#222" stroke-width="1" />
<line x1="404.5" y1="385.5" x2="408.5" y2="385.5" stroke="#222" stroke-width="1" />
<line x1="406.3" y1="367.5" x2="408.5" y2="367.5" stroke="#222" stroke-width="1" />
<line x1="406.3" y1="357.5" x2="408.5" y2="357.5" stroke="#222" stroke-width="1" />
<line x1="406.3" y1="350.5" x2="408.5" y2="350.5" stroke="#222" stroke-width="1" />
<line x1="406.3" y1="344.5" x2="408.5" y2="344.5" stroke="#222" stroke-width="1" />
<line x1="406.3" y1="339.5" x2="408.5" y2="339.5" stroke="#222" stroke-width="1" />
<line x1="406.3" y1="335.5" x2="408.5" y2="335.5" stroke="#222" stroke-width="1" />
<line x1="406.3" y1="332.5" x2="408.5" y2="332.5" stroke="#222" stroke-width="1" />
<line x1="406.3" y1="329.5" x2="408.5" y2="329.5" stroke="#222" stroke-width="1" />
<line x1="404.5" y1="326.5" x2="408.5" y2="326.5" stroke="#222" stroke-width="1" />
<line x1="408.5" y1="520.5" x2="408.5" y2="522.5" stroke="#222" stroke-width="1" />
<line x1="412.5" y1="520.5" x2="412.5" y2="524" stroke="#222" stroke-width="1" />
<line x1="435.5" y1="520.5" x2="435.5" y2="522.5" stroke="#222" stroke-width="1" />
<line x1="449.5" y1="520.5" x2="449.5" y2="522.5" stroke="#222" stroke-width="1" />
<line x1="459.5" y1="520.5" x2="459.5" y2="522.5" stroke="#222" stroke-width="1" />
<line x1="466.5" y1="520.5" x2="466.5" y2="522.5" stroke="#222" stroke-width="1" />
<line x1="473.5" y1="520.5" x2="473.5" y2="522.5" stroke="#222" stroke-width="1" />
<line x1="478.5" y1="520.5" x2="478.5" y2="522.5" stroke="#222" stroke-width="1" />
<line x1="482.5" y1="520.5" x2="482.5" y2="522.5" stroke="#222" stroke-width="1" />
<line x1="486.5" y1="520.5" x2="486.5" y2="522.5" stroke="#222" stroke-width="1" />
<line x1="490.5" y1="520.5" x2="490.5" y2="524" stroke="#222" stroke-width="1" />
<line x1="514.5" y1="520.5" x2="514.5" y2="522.5" stroke="#222" stroke-width="1" />
<line x1="527.5" y1="520.5" x2="527.5" y2="522.5" stroke="#222" stroke-width="1" />
<line x1="537.5" y1="520.5" x2="537.5" y2="522.5" stroke="#222" stroke-width="1" />
<line x1="545.5" y1="520.5" x2="545.5" y2="522.5" stroke="#222" stroke-width="1" />
<line x1="551.5" y1="520.5" x2="551.5" y2="522.5" stroke="#222" stroke-width="1" />
<line x1="556.5" y1="520.5" x2="556.5" y2="522.5" stroke="#222" stroke-width="1" />
<line x1="561.5" y1="520.5" x2="561.5" y2="522.5" stroke="#222" stroke-width="1" />
<line x1="565.5" y1="520.5" x2="565.5" y2="522.5" stroke="#222" stroke-width="1" />
<line x1="569.5" y1="520.5" x2="569.5" y2="524" stroke="#222" stroke-width="1" />
<line x1="592.5" y1="520.5" x2="592.5" y2="522.5" stroke="#222" stroke-width="1" />
<line x1="606.5" y1="520.5" x2="606.5" y2="522.5" stroke="#222" stroke-width="1" />
<line x1="616.5" y1="520.5" x2="616.5" y2="522.5" stroke="#222" stroke-width="1" />
<line x1="623.5" y1="520.5" x2="623.5" y2="522.5" stroke="#222" stroke-width="1" />
<line x1="630.5" y1="520.5" x2="630.5" y2="522.5" stroke="#222" stroke-width="1" />
<line x1="635.5" y1="520.5" x2="635.5" y2="522.5" stroke="#222" stroke-width="1" />
<line x1="639.5" y1="520.5" x2="639.5" y2="522.5" stroke="#222" stroke-width="1" />
<line x1="643.5" y1="520.5" x2="643.5" y2="522.5" stroke="#222" stroke-width="1" />
<line x1="647.5" y1="520.5" x2="647.5" y2="524" stroke="#222" stroke-width="1" />
<text x="401.7" y="330.5" font-size="11" text-anchor="end" font-weight="normal" fill="#1e1e1e" >1</text>
<text x="401.7" y="389.4" font-size="11" text-anchor="end" font-weight="normal" fill="#1e1e1e" >0.1</text>
<text x="401.7" y="448.3" font-size="11" text-anchor="end" font-weight="normal" fill="#1e1e1e" >0.01</text>
<text x="401.7" y="507.2" font-size="11" text-anchor="end" font-weight="normal" fill="#1e1e1e" >0.001</text>
<text x="412" y="536.4" font-size="11" text-anchor="middle" font-weight="normal" fill="#1e1e1e" >1</text>
<text x="490.5" y="536.4" font-size="11" text-anchor="middle" font-weight="normal" fill="#1e1e1e" >10</text>
<text x="569" y="536.4" font-size="11" text-anchor="middle" font-weight="normal" fill="#1e1e1e" >100</text>
<text x="647.5" y="536.4" font-size="11" text-anchor="middle" font-weight="normal" fill="#1e1e1e" >1000</text>
<text x="370.2" y="423.2" font-size="12.1" text-anchor="middle" font-weight="normal" fill="#1e1e1e" transform="rotate(-90 370.2 423.2)" >Viscosity (Pa·s)</text>
<text x="529.9" y="556.3" font-size="12.2" text-anchor="middle" font-weight="normal" fill="#1e1e1e" >Shear rate (s<tspan dy="-4.4" font-size="8">-1</tspan><tspan dy="4.4">)</tspan></text>
<polyline points="412,499.7 428.82,504.4 445.64,503.8 462.46,504.2 479.28,505.2 496.1,505 512.92,504.9 529.74,504.9 546.56,504.9 563.38,504.9 580.2,504.9 597.02,504.9 613.84,504.9 630.66,504.4 647.48,505.8" fill="none" stroke="#9a9a9a" stroke-width="0.8" stroke-linejoin="round" />
<rect x="409.6" y="497.3" width="4.8" height="4.8" fill="#474747"/>
<rect x="426.42" y="502" width="4.8" height="4.8" fill="#474747"/>
<rect x="443.24" y="501.4" width="4.8" height="4.8" fill="#474747"/>
<rect x="460.06" y="501.8" width="4.8" height="4.8" fill="#474747"/>
<rect x="476.88" y="502.8" width="4.8" height="4.8" fill="#474747"/>
<rect x="493.7" y="502.6" width="4.8" height="4.8" fill="#474747"/>
<rect x="510.52" y="502.5" width="4.8" height="4.8" fill="#474747"/>
<rect x="527.34" y="502.5" width="4.8" height="4.8" fill="#474747"/>
<rect x="544.16" y="502.5" width="4.8" height="4.8" fill="#474747"/>
<rect x="560.98" y="502.5" width="4.8" height="4.8" fill="#474747"/>
<rect x="577.8" y="502.5" width="4.8" height="4.8" fill="#474747"/>
<rect x="594.62" y="502.5" width="4.8" height="4.8" fill="#474747"/>
<rect x="611.44" y="502.5" width="4.8" height="4.8" fill="#474747"/>
<rect x="628.26" y="502" width="4.8" height="4.8" fill="#474747"/>
<rect x="645.08" y="503.4" width="4.8" height="4.8" fill="#474747"/>
<polyline points="412,345.8 428.82,350.5 445.64,354 462.46,358.1 479.28,362 496.1,366.9 512.92,372.2 529.74,378.2 546.56,384.9 563.38,392 580.2,399.8 597.02,407.9 613.84,415.9 630.66,424.2 647.48,432.3" fill="none" stroke="#6b9fb3" stroke-width="0.8" stroke-linejoin="round" />
<circle cx="412" cy="345.8" r="2.55" fill="#2f7398"/>
<circle cx="428.82" cy="350.5" r="2.55" fill="#2f7398"/>
<circle cx="445.64" cy="354" r="2.55" fill="#2f7398"/>
<circle cx="462.46" cy="358.1" r="2.55" fill="#2f7398"/>
<circle cx="479.28" cy="362" r="2.55" fill="#2f7398"/>
<circle cx="496.1" cy="366.9" r="2.55" fill="#2f7398"/>
<circle cx="512.92" cy="372.2" r="2.55" fill="#2f7398"/>
<circle cx="529.74" cy="378.2" r="2.55" fill="#2f7398"/>
<circle cx="546.56" cy="384.9" r="2.55" fill="#2f7398"/>
<circle cx="563.38" cy="392" r="2.55" fill="#2f7398"/>
<circle cx="580.2" cy="399.8" r="2.55" fill="#2f7398"/>
<circle cx="597.02" cy="407.9" r="2.55" fill="#2f7398"/>
<circle cx="613.84" cy="415.9" r="2.55" fill="#2f7398"/>
<circle cx="630.66" cy="424.2" r="2.55" fill="#2f7398"/>
<circle cx="647.48" cy="432.3" r="2.55" fill="#2f7398"/>
<polyline points="412,353 428.82,357.3 445.64,360.1 462.46,363.8 479.28,367.7 496.1,372.6 512.92,377.5 529.74,383 546.56,389.1 563.38,395.8 580.2,403.3 597.02,411.4 613.84,419.1 630.66,426.9 647.48,434.9" fill="none" stroke="#6fc28a" stroke-width="0.8" stroke-linejoin="round" />
<polygon points="412,350.2 414.8,353 412,355.8 409.2,353" fill="#4cb36c" stroke="none" stroke-width="0"/>
<polygon points="428.82,354.5 431.62,357.3 428.82,360.1 426.02,357.3" fill="#4cb36c" stroke="none" stroke-width="0"/>
<polygon points="445.64,357.3 448.44,360.1 445.64,362.9 442.84,360.1" fill="#4cb36c" stroke="none" stroke-width="0"/>
<polygon points="462.46,361 465.26,363.8 462.46,366.6 459.66,363.8" fill="#4cb36c" stroke="none" stroke-width="0"/>
<polygon points="479.28,364.9 482.08,367.7 479.28,370.5 476.48,367.7" fill="#4cb36c" stroke="none" stroke-width="0"/>
<polygon points="496.1,369.8 498.9,372.6 496.1,375.4 493.3,372.6" fill="#4cb36c" stroke="none" stroke-width="0"/>
<polygon points="512.92,374.7 515.72,377.5 512.92,380.3 510.12,377.5" fill="#4cb36c" stroke="none" stroke-width="0"/>
<polygon points="529.74,380.2 532.54,383 529.74,385.8 526.94,383" fill="#4cb36c" stroke="none" stroke-width="0"/>
<polygon points="546.56,386.3 549.36,389.1 546.56,391.9 543.76,389.1" fill="#4cb36c" stroke="none" stroke-width="0"/>
<polygon points="563.38,393 566.18,395.8 563.38,398.6 560.58,395.8" fill="#4cb36c" stroke="none" stroke-width="0"/>
<polygon points="580.2,400.5 583,403.3 580.2,406.1 577.4,403.3" fill="#4cb36c" stroke="none" stroke-width="0"/>
<polygon points="597.02,408.6 599.82,411.4 597.02,414.2 594.22,411.4" fill="#4cb36c" stroke="none" stroke-width="0"/>
<polygon points="613.84,416.3 616.64,419.1 613.84,421.9 611.04,419.1" fill="#4cb36c" stroke="none" stroke-width="0"/>
<polygon points="630.66,424.1 633.46,426.9 630.66,429.7 627.86,426.9" fill="#4cb36c" stroke="none" stroke-width="0"/>
<polygon points="647.48,432.1 650.28,434.9 647.48,437.7 644.68,434.9" fill="#4cb36c" stroke="none" stroke-width="0"/>
<polyline points="412,350.5 428.82,355.2 445.64,358.7 462.46,362.4 479.28,365.7 496.1,371 512.92,375.8 529.74,381.4 546.56,387.5 563.38,394.2 580.2,401.5 597.02,409.3 613.84,417.4 630.66,425.4 647.48,433" fill="none" stroke="#dc7fb0" stroke-width="0.8" stroke-linejoin="round" />
<polygon points="409.48,350.5 414.52,347.7 414.52,353.3" fill="#d33a8e" stroke="none" stroke-width="0"/>
<polygon points="426.3,355.2 431.34,352.4 431.34,358" fill="#d33a8e" stroke="none" stroke-width="0"/>
<polygon points="443.12,358.7 448.16,355.9 448.16,361.5" fill="#d33a8e" stroke="none" stroke-width="0"/>
<polygon points="459.94,362.4 464.98,359.6 464.98,365.2" fill="#d33a8e" stroke="none" stroke-width="0"/>
<polygon points="476.76,365.7 481.8,362.9 481.8,368.5" fill="#d33a8e" stroke="none" stroke-width="0"/>
<polygon points="493.58,371 498.62,368.2 498.62,373.8" fill="#d33a8e" stroke="none" stroke-width="0"/>
<polygon points="510.4,375.8 515.44,373 515.44,378.6" fill="#d33a8e" stroke="none" stroke-width="0"/>
<polygon points="527.22,381.4 532.26,378.6 532.26,384.2" fill="#d33a8e" stroke="none" stroke-width="0"/>
<polygon points="544.04,387.5 549.08,384.7 549.08,390.3" fill="#d33a8e" stroke="none" stroke-width="0"/>
<polygon points="560.86,394.2 565.9,391.4 565.9,397" fill="#d33a8e" stroke="none" stroke-width="0"/>
<polygon points="577.68,401.5 582.72,398.7 582.72,404.3" fill="#d33a8e" stroke="none" stroke-width="0"/>
<polygon points="594.5,409.3 599.54,406.5 599.54,412.1" fill="#d33a8e" stroke="none" stroke-width="0"/>
<polygon points="611.32,417.4 616.36,414.6 616.36,420.2" fill="#d33a8e" stroke="none" stroke-width="0"/>
<polygon points="628.14,425.4 633.18,422.6 633.18,428.2" fill="#d33a8e" stroke="none" stroke-width="0"/>
<polygon points="644.96,433 650,430.2 650,435.8" fill="#d33a8e" stroke="none" stroke-width="0"/>
<polyline points="412,364.4 428.82,370.9 445.64,377.7 462.46,382.2 479.28,385.4 496.1,389.1 512.92,393.6 529.74,398.3 546.56,403.9 563.38,409.5 580.2,416.3 597.02,423.5 613.84,430.4 630.66,436.9 647.48,444.4" fill="none" stroke="#70e0d8" stroke-width="0.8" stroke-linejoin="round" />
<polygon points="414.6,364.4 413.3,366.65 410.7,366.65 409.4,364.4 410.7,362.15 413.3,362.15" fill="#5fe3d8" stroke="none" stroke-width="0"/>
<polygon points="431.42,370.9 430.12,373.15 427.52,373.15 426.22,370.9 427.52,368.65 430.12,368.65" fill="#5fe3d8" stroke="none" stroke-width="0"/>
<polygon points="448.24,377.7 446.94,379.95 444.34,379.95 443.04,377.7 444.34,375.45 446.94,375.45" fill="#5fe3d8" stroke="none" stroke-width="0"/>
<polygon points="465.06,382.2 463.76,384.45 461.16,384.45 459.86,382.2 461.16,379.95 463.76,379.95" fill="#5fe3d8" stroke="none" stroke-width="0"/>
<polygon points="481.88,385.4 480.58,387.65 477.98,387.65 476.68,385.4 477.98,383.15 480.58,383.15" fill="#5fe3d8" stroke="none" stroke-width="0"/>
<polygon points="498.7,389.1 497.4,391.35 494.8,391.35 493.5,389.1 494.8,386.85 497.4,386.85" fill="#5fe3d8" stroke="none" stroke-width="0"/>
<polygon points="515.52,393.6 514.22,395.85 511.62,395.85 510.32,393.6 511.62,391.35 514.22,391.35" fill="#5fe3d8" stroke="none" stroke-width="0"/>
<polygon points="532.34,398.3 531.04,400.55 528.44,400.55 527.14,398.3 528.44,396.05 531.04,396.05" fill="#5fe3d8" stroke="none" stroke-width="0"/>
<polygon points="549.16,403.9 547.86,406.15 545.26,406.15 543.96,403.9 545.26,401.65 547.86,401.65" fill="#5fe3d8" stroke="none" stroke-width="0"/>
<polygon points="565.98,409.5 564.68,411.75 562.08,411.75 560.78,409.5 562.08,407.25 564.68,407.25" fill="#5fe3d8" stroke="none" stroke-width="0"/>
<polygon points="582.8,416.3 581.5,418.55 578.9,418.55 577.6,416.3 578.9,414.05 581.5,414.05" fill="#5fe3d8" stroke="none" stroke-width="0"/>
<polygon points="599.62,423.5 598.32,425.75 595.72,425.75 594.42,423.5 595.72,421.25 598.32,421.25" fill="#5fe3d8" stroke="none" stroke-width="0"/>
<polygon points="616.44,430.4 615.14,432.65 612.54,432.65 611.24,430.4 612.54,428.15 615.14,428.15" fill="#5fe3d8" stroke="none" stroke-width="0"/>
<polygon points="633.26,436.9 631.96,439.15 629.36,439.15 628.06,436.9 629.36,434.65 631.96,434.65" fill="#5fe3d8" stroke="none" stroke-width="0"/>
<polygon points="650.08,444.4 648.78,446.65 646.18,446.65 644.88,444.4 646.18,442.15 648.78,442.15" fill="#5fe3d8" stroke="none" stroke-width="0"/>
<polyline points="412,373.4 428.82,377.5 445.64,381.6 462.46,385.3 479.28,388.1 496.1,391.8 512.92,395.8 529.74,400.7 546.56,405.8 563.38,411.6 580.2,418 597.02,424.2 613.84,431.5 630.66,438.2 647.48,445.4" fill="none" stroke="#f0969a" stroke-width="0.8" stroke-linejoin="round" />
<circle cx="412" cy="373.4" r="2.55" fill="#f0636a"/>
<circle cx="428.82" cy="377.5" r="2.55" fill="#f0636a"/>
<circle cx="445.64" cy="381.6" r="2.55" fill="#f0636a"/>
<circle cx="462.46" cy="385.3" r="2.55" fill="#f0636a"/>
<circle cx="479.28" cy="388.1" r="2.55" fill="#f0636a"/>
<circle cx="496.1" cy="391.8" r="2.55" fill="#f0636a"/>
<circle cx="512.92" cy="395.8" r="2.55" fill="#f0636a"/>
<circle cx="529.74" cy="400.7" r="2.55" fill="#f0636a"/>
<circle cx="546.56" cy="405.8" r="2.55" fill="#f0636a"/>
<circle cx="563.38" cy="411.6" r="2.55" fill="#f0636a"/>
<circle cx="580.2" cy="418" r="2.55" fill="#f0636a"/>
<circle cx="597.02" cy="424.2" r="2.55" fill="#f0636a"/>
<circle cx="613.84" cy="431.5" r="2.55" fill="#f0636a"/>
<circle cx="630.66" cy="438.2" r="2.55" fill="#f0636a"/>
<circle cx="647.48" cy="445.4" r="2.55" fill="#f0636a"/>
<line x1="433.5" y1="306.2" x2="452.8" y2="306.2" stroke="#9a9a9a" stroke-width="0.8" />
<rect x="441.05" y="304.05" width="4.3" height="4.3" fill="#474747"/>
<text x="455.9" y="309.8" font-size="8.7" text-anchor="start" font-weight="normal" fill="#1e1e1e" >dH<tspan font-size="6.2" dy="2.4">2</tspan><tspan dy="-2.4">O</tspan></text>
<line x1="433.5" y1="318.6" x2="452.8" y2="318.6" stroke="#6fc28a" stroke-width="0.8" />
<polygon points="443.2,315.46 446.34,318.6 443.2,321.74 440.06,318.6" fill="#4cb36c" stroke="none" stroke-width="0"/>
<text x="455.9" y="322.2" font-size="8.7" text-anchor="start" font-weight="normal" fill="#1e1e1e" >EpsA-O in NaCl (0.10 M)</text>
<line x1="433.5" y1="329" x2="452.8" y2="329" stroke="#70e0d8" stroke-width="0.8" />
<polygon points="446.11,329 444.66,331.52 441.74,331.52 440.29,329 441.74,326.48 444.66,326.48" fill="#5fe3d8" stroke="none" stroke-width="0"/>
<text x="455.9" y="332.6" font-size="8.7" text-anchor="start" font-weight="normal" fill="#1e1e1e" >EpsA-O in NaCl (0.50 M)</text>
<line x1="564.6" y1="306.2" x2="583.9" y2="306.2" stroke="#6b9fb3" stroke-width="0.8" />
<circle cx="574.2" cy="306.2" r="2.86" fill="#2f7398"/>
<text x="586.5" y="309.8" font-size="8.7" text-anchor="start" font-weight="normal" fill="#1e1e1e" >EpsA-O in dH<tspan font-size="6.2" dy="2.4">2</tspan><tspan dy="-2.4">O</tspan></text>
<line x1="564.6" y1="318.6" x2="583.9" y2="318.6" stroke="#dc7fb0" stroke-width="0.8" />
<polygon points="571.38,318.6 577.02,315.46 577.02,321.74" fill="#d33a8e" stroke="none" stroke-width="0"/>
<text x="586.5" y="322.2" font-size="8.7" text-anchor="start" font-weight="normal" fill="#1e1e1e" >EpsA-O in NaCl (0.05 M)</text>
<line x1="564.6" y1="329" x2="583.9" y2="329" stroke="#f0969a" stroke-width="0.8" />
<circle cx="574.2" cy="329" r="2.86" fill="#f0636a"/>
<text x="586.5" y="332.6" font-size="8.7" text-anchor="start" font-weight="normal" fill="#1e1e1e" >EpsA-O in NaCl (1.00 M)</text>
<line x1="58.5" y1="615.9" x2="58.5" y2="811" stroke="#222" stroke-width="1" />
<line x1="58" y1="810.5" x2="300.8" y2="810.5" stroke="#222" stroke-width="1" />
<line x1="54.5" y1="810.5" x2="58.5" y2="810.5" stroke="#222" stroke-width="1" />
<line x1="56.3" y1="797.5" x2="58.5" y2="797.5" stroke="#222" stroke-width="1" />
<line x1="56.3" y1="790.5" x2="58.5" y2="790.5" stroke="#222" stroke-width="1" />
<line x1="56.3" y1="785.5" x2="58.5" y2="785.5" stroke="#222" stroke-width="1" />
<line x1="56.3" y1="780.5" x2="58.5" y2="780.5" stroke="#222" stroke-width="1" />
<line x1="56.3" y1="777.5" x2="58.5" y2="777.5" stroke="#222" stroke-width="1" />
<line x1="56.3" y1="774.5" x2="58.5" y2="774.5" stroke="#222" stroke-width="1" />
<line x1="56.3" y1="772.5" x2="58.5" y2="772.5" stroke="#222" stroke-width="1" />
<line x1="56.3" y1="770.5" x2="58.5" y2="770.5" stroke="#222" stroke-width="1" />
<line x1="54.5" y1="768.5" x2="58.5" y2="768.5" stroke="#222" stroke-width="1" />
<line x1="56.3" y1="755.5" x2="58.5" y2="755.5" stroke="#222" stroke-width="1" />
<line x1="56.3" y1="748.5" x2="58.5" y2="748.5" stroke="#222" stroke-width="1" />
<line x1="56.3" y1="742.5" x2="58.5" y2="742.5" stroke="#222" stroke-width="1" />
<line x1="56.3" y1="738.5" x2="58.5" y2="738.5" stroke="#222" stroke-width="1" />
<line x1="56.3" y1="735.5" x2="58.5" y2="735.5" stroke="#222" stroke-width="1" />
<line x1="56.3" y1="732.5" x2="58.5" y2="732.5" stroke="#222" stroke-width="1" />
<line x1="56.3" y1="730.5" x2="58.5" y2="730.5" stroke="#222" stroke-width="1" />
<line x1="56.3" y1="727.5" x2="58.5" y2="727.5" stroke="#222" stroke-width="1" />
<line x1="54.5" y1="726.5" x2="58.5" y2="726.5" stroke="#222" stroke-width="1" />
<line x1="56.3" y1="713.5" x2="58.5" y2="713.5" stroke="#222" stroke-width="1" />
<line x1="56.3" y1="705.5" x2="58.5" y2="705.5" stroke="#222" stroke-width="1" />
<line x1="56.3" y1="700.5" x2="58.5" y2="700.5" stroke="#222" stroke-width="1" />
<line x1="56.3" y1="696.5" x2="58.5" y2="696.5" stroke="#222" stroke-width="1" />
<line x1="56.3" y1="693.5" x2="58.5" y2="693.5" stroke="#222" stroke-width="1" />
<line x1="56.3" y1="690.5" x2="58.5" y2="690.5" stroke="#222" stroke-width="1" />
<line x1="56.3" y1="687.5" x2="58.5" y2="687.5" stroke="#222" stroke-width="1" />
<line x1="56.3" y1="685.5" x2="58.5" y2="685.5" stroke="#222" stroke-width="1" />
<line x1="54.5" y1="683.5" x2="58.5" y2="683.5" stroke="#222" stroke-width="1" />
<line x1="56.3" y1="671.5" x2="58.5" y2="671.5" stroke="#222" stroke-width="1" />
<line x1="56.3" y1="663.5" x2="58.5" y2="663.5" stroke="#222" stroke-width="1" />
<line x1="56.3" y1="658.5" x2="58.5" y2="658.5" stroke="#222" stroke-width="1" />
<line x1="56.3" y1="654.5" x2="58.5" y2="654.5" stroke="#222" stroke-width="1" />
<line x1="56.3" y1="650.5" x2="58.5" y2="650.5" stroke="#222" stroke-width="1" />
<line x1="56.3" y1="648.5" x2="58.5" y2="648.5" stroke="#222" stroke-width="1" />
<line x1="56.3" y1="645.5" x2="58.5" y2="645.5" stroke="#222" stroke-width="1" />
<line x1="56.3" y1="643.5" x2="58.5" y2="643.5" stroke="#222" stroke-width="1" />
<line x1="54.5" y1="641.5" x2="58.5" y2="641.5" stroke="#222" stroke-width="1" />
<line x1="56.3" y1="628.5" x2="58.5" y2="628.5" stroke="#222" stroke-width="1" />
<line x1="56.3" y1="621.5" x2="58.5" y2="621.5" stroke="#222" stroke-width="1" />
<line x1="56.3" y1="616.5" x2="58.5" y2="616.5" stroke="#222" stroke-width="1" />
<line x1="58.5" y1="810.5" x2="58.5" y2="812.5" stroke="#222" stroke-width="1" />
<line x1="66.5" y1="810.5" x2="66.5" y2="812.5" stroke="#222" stroke-width="1" />
<line x1="73.5" y1="810.5" x2="73.5" y2="812.5" stroke="#222" stroke-width="1" />
<line x1="79.5" y1="810.5" x2="79.5" y2="812.5" stroke="#222" stroke-width="1" />
<line x1="84.5" y1="810.5" x2="84.5" y2="812.5" stroke="#222" stroke-width="1" />
<line x1="89.5" y1="810.5" x2="89.5" y2="814" stroke="#222" stroke-width="1" />
<line x1="120.5" y1="810.5" x2="120.5" y2="812.5" stroke="#222" stroke-width="1" />
<line x1="138.5" y1="810.5" x2="138.5" y2="812.5" stroke="#222" stroke-width="1" />
<line x1="151.5" y1="810.5" x2="151.5" y2="812.5" stroke="#222" stroke-width="1" />
<line x1="161.5" y1="810.5" x2="161.5" y2="812.5" stroke="#222" stroke-width="1" />
<line x1="169.5" y1="810.5" x2="169.5" y2="812.5" stroke="#222" stroke-width="1" />
<line x1="176.5" y1="810.5" x2="176.5" y2="812.5" stroke="#222" stroke-width="1" />
<line x1="182.5" y1="810.5" x2="182.5" y2="812.5" stroke="#222" stroke-width="1" />
<line x1="188.5" y1="810.5" x2="188.5" y2="812.5" stroke="#222" stroke-width="1" />
<line x1="192.5" y1="810.5" x2="192.5" y2="814" stroke="#222" stroke-width="1" />
<line x1="224.5" y1="810.5" x2="224.5" y2="812.5" stroke="#222" stroke-width="1" />
<line x1="242.5" y1="810.5" x2="242.5" y2="812.5" stroke="#222" stroke-width="1" />
<line x1="255.5" y1="810.5" x2="255.5" y2="812.5" stroke="#222" stroke-width="1" />
<line x1="265.5" y1="810.5" x2="265.5" y2="812.5" stroke="#222" stroke-width="1" />
<line x1="273.5" y1="810.5" x2="273.5" y2="812.5" stroke="#222" stroke-width="1" />
<line x1="280.5" y1="810.5" x2="280.5" y2="812.5" stroke="#222" stroke-width="1" />
<line x1="286.5" y1="810.5" x2="286.5" y2="812.5" stroke="#222" stroke-width="1" />
<line x1="291.5" y1="810.5" x2="291.5" y2="812.5" stroke="#222" stroke-width="1" />
<line x1="296.5" y1="810.5" x2="296.5" y2="814" stroke="#222" stroke-width="1" />
<text x="51.4" y="645.28" font-size="10.3" text-anchor="end" font-weight="normal" fill="#1e1e1e" >10</text>
<text x="51.4" y="687.51" font-size="10.3" text-anchor="end" font-weight="normal" fill="#1e1e1e" >1</text>
<text x="51.4" y="729.74" font-size="10.3" text-anchor="end" font-weight="normal" fill="#1e1e1e" >0.1</text>
<text x="51.4" y="771.97" font-size="10.3" text-anchor="end" font-weight="normal" fill="#1e1e1e" >0.01</text>
<text x="51.4" y="814.2" font-size="10.3" text-anchor="end" font-weight="normal" fill="#1e1e1e" >0.001</text>
<text x="89.3" y="826.1" font-size="10.3" text-anchor="middle" font-weight="normal" fill="#1e1e1e" >10</text>
<text x="192.9" y="826.1" font-size="10.3" text-anchor="middle" font-weight="normal" fill="#1e1e1e" >100</text>
<text x="296.5" y="826.1" font-size="10.3" text-anchor="middle" font-weight="normal" fill="#1e1e1e" >1000</text>
<text x="20.2" y="713.8" font-size="12.1" text-anchor="middle" font-weight="normal" fill="#1e1e1e" transform="rotate(-90 20.2 713.8)" >G', G'' (Pa)</text>
<text x="179.6" y="844.9" font-size="12.1" text-anchor="middle" font-weight="normal" fill="#1e1e1e" >Shear strain (%)</text>
<polyline points="63.6,754.1 76.52,754.8 89.44,755.4 102.36,756 115.28,756 128.2,756.4 141.12,756.5 154.04,756.8 166.96,757 179.88,757.5 192.8,758.1 205.72,759.9 218.64,762 231.56,765.2 244.48,769.1 257.4,773 270.32,778.8 283.24,783.6 296.16,792" fill="none" stroke="#3f84a6" stroke-width="1.15" stroke-linejoin="round" />
<rect x="61.4" y="751.9" width="4.4" height="4.4" fill="#2f7aa0"/>
<rect x="74.32" y="752.6" width="4.4" height="4.4" fill="#2f7aa0"/>
<rect x="87.24" y="753.2" width="4.4" height="4.4" fill="#2f7aa0"/>
<rect x="100.16" y="753.8" width="4.4" height="4.4" fill="#2f7aa0"/>
<rect x="113.08" y="753.8" width="4.4" height="4.4" fill="#2f7aa0"/>
<rect x="126" y="754.2" width="4.4" height="4.4" fill="#2f7aa0"/>
<rect x="138.92" y="754.3" width="4.4" height="4.4" fill="#2f7aa0"/>
<rect x="151.84" y="754.6" width="4.4" height="4.4" fill="#2f7aa0"/>
<rect x="164.76" y="754.8" width="4.4" height="4.4" fill="#2f7aa0"/>
<rect x="177.68" y="755.3" width="4.4" height="4.4" fill="#2f7aa0"/>
<rect x="190.6" y="755.9" width="4.4" height="4.4" fill="#2f7aa0"/>
<rect x="203.52" y="757.7" width="4.4" height="4.4" fill="#2f7aa0"/>
<rect x="216.44" y="759.8" width="4.4" height="4.4" fill="#2f7aa0"/>
<rect x="229.36" y="763" width="4.4" height="4.4" fill="#2f7aa0"/>
<rect x="242.28" y="766.9" width="4.4" height="4.4" fill="#2f7aa0"/>
<rect x="255.2" y="770.8" width="4.4" height="4.4" fill="#2f7aa0"/>
<rect x="268.12" y="776.6" width="4.4" height="4.4" fill="#2f7aa0"/>
<rect x="281.04" y="781.4" width="4.4" height="4.4" fill="#2f7aa0"/>
<rect x="293.96" y="789.8" width="4.4" height="4.4" fill="#2f7aa0"/>
<polyline points="63.6,728.5 76.52,728.5 89.44,728.5 102.36,728.5 115.28,728.5 128.2,728.5 141.12,728.9 154.04,728.9 166.96,728.9 179.88,728.9 192.8,728.9 205.72,728.9 218.64,728.9 231.56,728.9 244.48,728.9 257.4,729.4 270.32,731 283.24,731.5 296.16,732.6" fill="none" stroke="#3f84a6" stroke-width="1.15" stroke-linejoin="round" />
<circle cx="63.6" cy="728.5" r="2.55" fill="#2f7aa0"/>
<circle cx="76.52" cy="728.5" r="2.55" fill="#2f7aa0"/>
<circle cx="89.44" cy="728.5" r="2.55" fill="#2f7aa0"/>
<circle cx="102.36" cy="728.5" r="2.55" fill="#2f7aa0"/>
<circle cx="115.28" cy="728.5" r="2.55" fill="#2f7aa0"/>
<circle cx="128.2" cy="728.5" r="2.55" fill="#2f7aa0"/>
<circle cx="141.12" cy="728.9" r="2.55" fill="#2f7aa0"/>
<circle cx="154.04" cy="728.9" r="2.55" fill="#2f7aa0"/>
<circle cx="166.96" cy="728.9" r="2.55" fill="#2f7aa0"/>
<circle cx="179.88" cy="728.9" r="2.55" fill="#2f7aa0"/>
<circle cx="192.8" cy="728.9" r="2.55" fill="#2f7aa0"/>
<circle cx="205.72" cy="728.9" r="2.55" fill="#2f7aa0"/>
<circle cx="218.64" cy="728.9" r="2.55" fill="#2f7aa0"/>
<circle cx="231.56" cy="728.9" r="2.55" fill="#2f7aa0"/>
<circle cx="244.48" cy="728.9" r="2.55" fill="#2f7aa0"/>
<circle cx="257.4" cy="729.4" r="2.55" fill="#2f7aa0"/>
<circle cx="270.32" cy="731" r="2.55" fill="#2f7aa0"/>
<circle cx="283.24" cy="731.5" r="2.55" fill="#2f7aa0"/>
<circle cx="296.16" cy="732.6" r="2.55" fill="#2f7aa0"/>
<polyline points="63.6,691.5 76.52,692 89.44,692.4 102.36,692.8 115.28,693 128.2,693.3 141.12,693.7 154.04,694.5 166.96,695.5 179.88,696.4 192.8,698.1 205.72,700.5 218.64,703.7 231.56,707.9 244.48,712.6 257.4,718.9 270.32,726.3 283.24,734.7 296.16,743.9" fill="none" stroke="#ef6b77" stroke-width="1.15" stroke-linejoin="round" />
<rect x="61.4" y="689.3" width="4.4" height="4.4" fill="#ee5b69"/>
<rect x="74.32" y="689.8" width="4.4" height="4.4" fill="#ee5b69"/>
<rect x="87.24" y="690.2" width="4.4" height="4.4" fill="#ee5b69"/>
<rect x="100.16" y="690.6" width="4.4" height="4.4" fill="#ee5b69"/>
<rect x="113.08" y="690.8" width="4.4" height="4.4" fill="#ee5b69"/>
<rect x="126" y="691.1" width="4.4" height="4.4" fill="#ee5b69"/>
<rect x="138.92" y="691.5" width="4.4" height="4.4" fill="#ee5b69"/>
<rect x="151.84" y="692.3" width="4.4" height="4.4" fill="#ee5b69"/>
<rect x="164.76" y="693.3" width="4.4" height="4.4" fill="#ee5b69"/>
<rect x="177.68" y="694.2" width="4.4" height="4.4" fill="#ee5b69"/>
<rect x="190.6" y="695.9" width="4.4" height="4.4" fill="#ee5b69"/>
<rect x="203.52" y="698.3" width="4.4" height="4.4" fill="#ee5b69"/>
<rect x="216.44" y="701.5" width="4.4" height="4.4" fill="#ee5b69"/>
<rect x="229.36" y="705.7" width="4.4" height="4.4" fill="#ee5b69"/>
<rect x="242.28" y="710.4" width="4.4" height="4.4" fill="#ee5b69"/>
<rect x="255.2" y="716.7" width="4.4" height="4.4" fill="#ee5b69"/>
<rect x="268.12" y="724.1" width="4.4" height="4.4" fill="#ee5b69"/>
<rect x="281.04" y="732.5" width="4.4" height="4.4" fill="#ee5b69"/>
<rect x="293.96" y="741.7" width="4.4" height="4.4" fill="#ee5b69"/>
<polyline points="63.6,682.9 76.52,682.9 89.44,682.9 102.36,683 115.28,683 128.2,683.1 141.12,683.1 154.04,683.1 166.96,683.1 179.88,683.5 192.8,683.8 205.72,684.2 218.64,685.3 231.56,686.4 244.48,687.6 257.4,689.6 270.32,691.5 283.24,694 296.16,696.2" fill="none" stroke="#ef6b77" stroke-width="1.15" stroke-linejoin="round" />
<circle cx="63.6" cy="682.9" r="2.55" fill="#ee5b69"/>
<circle cx="76.52" cy="682.9" r="2.55" fill="#ee5b69"/>
<circle cx="89.44" cy="682.9" r="2.55" fill="#ee5b69"/>
<circle cx="102.36" cy="683" r="2.55" fill="#ee5b69"/>
<circle cx="115.28" cy="683" r="2.55" fill="#ee5b69"/>
<circle cx="128.2" cy="683.1" r="2.55" fill="#ee5b69"/>
<circle cx="141.12" cy="683.1" r="2.55" fill="#ee5b69"/>
<circle cx="154.04" cy="683.1" r="2.55" fill="#ee5b69"/>
<circle cx="166.96" cy="683.1" r="2.55" fill="#ee5b69"/>
<circle cx="179.88" cy="683.5" r="2.55" fill="#ee5b69"/>
<circle cx="192.8" cy="683.8" r="2.55" fill="#ee5b69"/>
<circle cx="205.72" cy="684.2" r="2.55" fill="#ee5b69"/>
<circle cx="218.64" cy="685.3" r="2.55" fill="#ee5b69"/>
<circle cx="231.56" cy="686.4" r="2.55" fill="#ee5b69"/>
<circle cx="244.48" cy="687.6" r="2.55" fill="#ee5b69"/>
<circle cx="257.4" cy="689.6" r="2.55" fill="#ee5b69"/>
<circle cx="270.32" cy="691.5" r="2.55" fill="#ee5b69"/>
<circle cx="283.24" cy="694" r="2.55" fill="#ee5b69"/>
<circle cx="296.16" cy="696.2" r="2.55" fill="#ee5b69"/>
<polyline points="63.6,645.4 76.52,645.4 89.44,645.4 102.36,645.3 115.28,645.2 128.2,645 141.12,644.8 154.04,645.1 166.96,645.1 179.88,646 192.8,646 205.72,647 218.64,648.4 231.56,650.2 244.48,652.8 257.4,655.5 270.32,659 283.24,662.6 296.16,666.4" fill="none" stroke="#5cc07a" stroke-width="1.15" stroke-linejoin="round" />
<circle cx="63.6" cy="645.4" r="2.55" fill="#4cba6b"/>
<circle cx="76.52" cy="645.4" r="2.55" fill="#4cba6b"/>
<circle cx="89.44" cy="645.4" r="2.55" fill="#4cba6b"/>
<circle cx="102.36" cy="645.3" r="2.55" fill="#4cba6b"/>
<circle cx="115.28" cy="645.2" r="2.55" fill="#4cba6b"/>
<circle cx="128.2" cy="645" r="2.55" fill="#4cba6b"/>
<circle cx="141.12" cy="644.8" r="2.55" fill="#4cba6b"/>
<circle cx="154.04" cy="645.1" r="2.55" fill="#4cba6b"/>
<circle cx="166.96" cy="645.1" r="2.55" fill="#4cba6b"/>
<circle cx="179.88" cy="646" r="2.55" fill="#4cba6b"/>
<circle cx="192.8" cy="646" r="2.55" fill="#4cba6b"/>
<circle cx="205.72" cy="647" r="2.55" fill="#4cba6b"/>
<circle cx="218.64" cy="648.4" r="2.55" fill="#4cba6b"/>
<circle cx="231.56" cy="650.2" r="2.55" fill="#4cba6b"/>
<circle cx="244.48" cy="652.8" r="2.55" fill="#4cba6b"/>
<circle cx="257.4" cy="655.5" r="2.55" fill="#4cba6b"/>
<circle cx="270.32" cy="659" r="2.55" fill="#4cba6b"/>
<circle cx="283.24" cy="662.6" r="2.55" fill="#4cba6b"/>
<circle cx="296.16" cy="666.4" r="2.55" fill="#4cba6b"/>
<polyline points="63.6,642.7 76.52,642.7 89.44,642.8 102.36,642.9 115.28,643 128.2,643.2 141.12,644.1 154.04,644.1 166.96,644.8 179.88,646.7 192.8,647.7 205.72,651.8 218.64,656 231.56,661.9 244.48,667.9 257.4,675.5 270.32,683.8 283.24,692 296.16,700.7" fill="none" stroke="#5cc07a" stroke-width="1.15" stroke-linejoin="round" />
<rect x="61.4" y="640.5" width="4.4" height="4.4" fill="#4cba6b"/>
<rect x="74.32" y="640.5" width="4.4" height="4.4" fill="#4cba6b"/>
<rect x="87.24" y="640.6" width="4.4" height="4.4" fill="#4cba6b"/>
<rect x="100.16" y="640.7" width="4.4" height="4.4" fill="#4cba6b"/>
<rect x="113.08" y="640.8" width="4.4" height="4.4" fill="#4cba6b"/>
<rect x="126" y="641" width="4.4" height="4.4" fill="#4cba6b"/>
<rect x="138.92" y="641.9" width="4.4" height="4.4" fill="#4cba6b"/>
<rect x="151.84" y="641.9" width="4.4" height="4.4" fill="#4cba6b"/>
<rect x="164.76" y="642.6" width="4.4" height="4.4" fill="#4cba6b"/>
<rect x="177.68" y="644.5" width="4.4" height="4.4" fill="#4cba6b"/>
<rect x="190.6" y="645.5" width="4.4" height="4.4" fill="#4cba6b"/>
<rect x="203.52" y="649.6" width="4.4" height="4.4" fill="#4cba6b"/>
<rect x="216.44" y="653.8" width="4.4" height="4.4" fill="#4cba6b"/>
<rect x="229.36" y="659.7" width="4.4" height="4.4" fill="#4cba6b"/>
<rect x="242.28" y="665.7" width="4.4" height="4.4" fill="#4cba6b"/>
<rect x="255.2" y="673.3" width="4.4" height="4.4" fill="#4cba6b"/>
<rect x="268.12" y="681.6" width="4.4" height="4.4" fill="#4cba6b"/>
<rect x="281.04" y="689.8" width="4.4" height="4.4" fill="#4cba6b"/>
<rect x="293.96" y="698.5" width="4.4" height="4.4" fill="#4cba6b"/>
<line x1="233.8" y1="583.1" x2="253.8" y2="583.1" stroke="#3f84a6" stroke-width="1.0" />
<rect x="241.61" y="581.01" width="4.18" height="4.18" fill="#2f7aa0"/>
<text x="256.1" y="586.6" font-size="8.7" text-anchor="start" font-weight="normal" fill="#1e1e1e" >G' (0.15 g/dl)</text>
<line x1="233.8" y1="593.6" x2="253.8" y2="593.6" stroke="#3f84a6" stroke-width="1.0" />
<circle cx="243.7" cy="593.6" r="2.42" fill="#2f7aa0"/>
<text x="256.1" y="597.1" font-size="8.7" text-anchor="start" font-weight="normal" fill="#1e1e1e" >G'' (0.15 g/dl)</text>
<line x1="233.8" y1="604.5" x2="253.8" y2="604.5" stroke="#ef6b77" stroke-width="1.0" />
<rect x="241.61" y="602.41" width="4.18" height="4.18" fill="#ee5b69"/>
<text x="256.1" y="608" font-size="8.7" text-anchor="start" font-weight="normal" fill="#1e1e1e" >G' (0.50 g/dl)</text>
<line x1="233.8" y1="615" x2="253.8" y2="615" stroke="#ef6b77" stroke-width="1.0" />
<circle cx="243.7" cy="615" r="2.42" fill="#ee5b69"/>
<text x="256.1" y="618.5" font-size="8.7" text-anchor="start" font-weight="normal" fill="#1e1e1e" >G'' (0.50 g/dl)</text>
<line x1="233.8" y1="625.8" x2="253.8" y2="625.8" stroke="#5cc07a" stroke-width="1.0" />
<rect x="241.61" y="623.71" width="4.18" height="4.18" fill="#4cba6b"/>
<text x="256.1" y="629.3" font-size="8.7" text-anchor="start" font-weight="normal" fill="#1e1e1e" >G' (1.00 g/dl)</text>
<line x1="233.8" y1="636.4" x2="253.8" y2="636.4" stroke="#5cc07a" stroke-width="1.0" />
<circle cx="243.7" cy="636.4" r="2.42" fill="#4cba6b"/>
<text x="256.1" y="639.9" font-size="8.7" text-anchor="start" font-weight="normal" fill="#1e1e1e" >G'' (1.00 g/dl)</text>
<line x1="408.5" y1="608.2" x2="408.5" y2="804" stroke="#222" stroke-width="1" />
<line x1="408" y1="803.5" x2="650.9" y2="803.5" stroke="#222" stroke-width="1" />
<line x1="406.5" y1="803.5" x2="408.5" y2="803.5" stroke="#222" stroke-width="1" />
<line x1="405.5" y1="783.5" x2="408.5" y2="783.5" stroke="#222" stroke-width="1" />
<text x="401.9" y="787.5" font-size="11" text-anchor="end" font-weight="normal" fill="#1e1e1e" >1</text>
<line x1="406.5" y1="764.5" x2="408.5" y2="764.5" stroke="#222" stroke-width="1" />
<line x1="405.5" y1="744.5" x2="408.5" y2="744.5" stroke="#222" stroke-width="1" />
<text x="401.9" y="748.65" font-size="11" text-anchor="end" font-weight="normal" fill="#1e1e1e" >2</text>
<line x1="406.5" y1="725.5" x2="408.5" y2="725.5" stroke="#222" stroke-width="1" />
<line x1="405.5" y1="705.5" x2="408.5" y2="705.5" stroke="#222" stroke-width="1" />
<text x="401.9" y="709.8" font-size="11" text-anchor="end" font-weight="normal" fill="#1e1e1e" >3</text>
<line x1="406.5" y1="686.5" x2="408.5" y2="686.5" stroke="#222" stroke-width="1" />
<line x1="405.5" y1="667.5" x2="408.5" y2="667.5" stroke="#222" stroke-width="1" />
<text x="401.9" y="670.95" font-size="11" text-anchor="end" font-weight="normal" fill="#1e1e1e" >4</text>
<line x1="406.5" y1="647.5" x2="408.5" y2="647.5" stroke="#222" stroke-width="1" />
<line x1="405.5" y1="628.5" x2="408.5" y2="628.5" stroke="#222" stroke-width="1" />
<text x="401.9" y="632.1" font-size="11" text-anchor="end" font-weight="normal" fill="#1e1e1e" >5</text>
<line x1="406.5" y1="608.5" x2="408.5" y2="608.5" stroke="#222" stroke-width="1" />
<line x1="408.5" y1="803.5" x2="408.5" y2="805.5" stroke="#222" stroke-width="1" />
<line x1="428.5" y1="803.5" x2="428.5" y2="806.5" stroke="#222" stroke-width="1" />
<text x="428.4" y="818.5" font-size="11" text-anchor="middle" font-weight="normal" fill="#1e1e1e" >0.0</text>
<line x1="448.5" y1="803.5" x2="448.5" y2="805.5" stroke="#222" stroke-width="1" />
<line x1="468.5" y1="803.5" x2="468.5" y2="806.5" stroke="#222" stroke-width="1" />
<text x="468.8" y="818.5" font-size="11" text-anchor="middle" font-weight="normal" fill="#1e1e1e" >0.2</text>
<line x1="489.5" y1="803.5" x2="489.5" y2="805.5" stroke="#222" stroke-width="1" />
<line x1="509.5" y1="803.5" x2="509.5" y2="806.5" stroke="#222" stroke-width="1" />
<text x="509.2" y="818.5" font-size="11" text-anchor="middle" font-weight="normal" fill="#1e1e1e" >0.4</text>
<line x1="529.5" y1="803.5" x2="529.5" y2="805.5" stroke="#222" stroke-width="1" />
<line x1="549.5" y1="803.5" x2="549.5" y2="806.5" stroke="#222" stroke-width="1" />
<text x="549.6" y="818.5" font-size="11" text-anchor="middle" font-weight="normal" fill="#1e1e1e" >0.6</text>
<line x1="569.5" y1="803.5" x2="569.5" y2="805.5" stroke="#222" stroke-width="1" />
<line x1="590.5" y1="803.5" x2="590.5" y2="806.5" stroke="#222" stroke-width="1" />
<text x="590" y="818.5" font-size="11" text-anchor="middle" font-weight="normal" fill="#1e1e1e" >0.8</text>
<line x1="610.5" y1="803.5" x2="610.5" y2="805.5" stroke="#222" stroke-width="1" />
<line x1="630.5" y1="803.5" x2="630.5" y2="806.5" stroke="#222" stroke-width="1" />
<text x="630.4" y="818.5" font-size="11" text-anchor="middle" font-weight="normal" fill="#1e1e1e" >1.0</text>
<line x1="650.5" y1="803.5" x2="650.5" y2="805.5" stroke="#222" stroke-width="1" />
<text x="391" y="706" font-size="11.9" text-anchor="middle" font-weight="normal" fill="#1e1e1e" transform="rotate(-90 391 706)" >tan δ</text>
<text x="529.9" y="837.4" font-size="12.0" text-anchor="middle" font-weight="normal" fill="#1e1e1e" >c (g/dl)</text>
<line x1="459.1" y1="722.1" x2="459.1" y2="743.5" stroke="#eeb4b8" stroke-width="0.9" />
<line x1="457.1" y1="722.1" x2="461.1" y2="722.1" stroke="#eeb4b8" stroke-width="0.9" />
<line x1="457.1" y1="743.5" x2="461.1" y2="743.5" stroke="#eeb4b8" stroke-width="0.9" />
<polygon points="438.7,625.93 441.84,628.21 440.64,631.9 436.76,631.9 435.56,628.21" fill="#ef5a68" stroke="none" stroke-width="0"/>
<polygon points="449.1,699.33 452.24,701.61 451.04,705.3 447.16,705.3 445.96,701.61" fill="#ef5a68" stroke="none" stroke-width="0"/>
<polygon points="459.1,729.93 462.24,732.21 461.04,735.9 457.16,735.9 455.96,732.21" fill="#ef5a68" stroke="none" stroke-width="0"/>
<polygon points="489.3,752.83 492.44,755.11 491.24,758.8 487.36,758.8 486.16,755.11" fill="#ef5a68" stroke="none" stroke-width="0"/>
<polygon points="529.8,766.63 532.94,768.91 531.74,772.6 527.86,772.6 526.66,768.91" fill="#ef5a68" stroke="none" stroke-width="0"/>
<polygon points="630.5,785.53 633.64,787.81 632.44,791.5 628.56,791.5 627.36,787.81" fill="#ef5a68" stroke="none" stroke-width="0"/>
</svg>
</body></html>
